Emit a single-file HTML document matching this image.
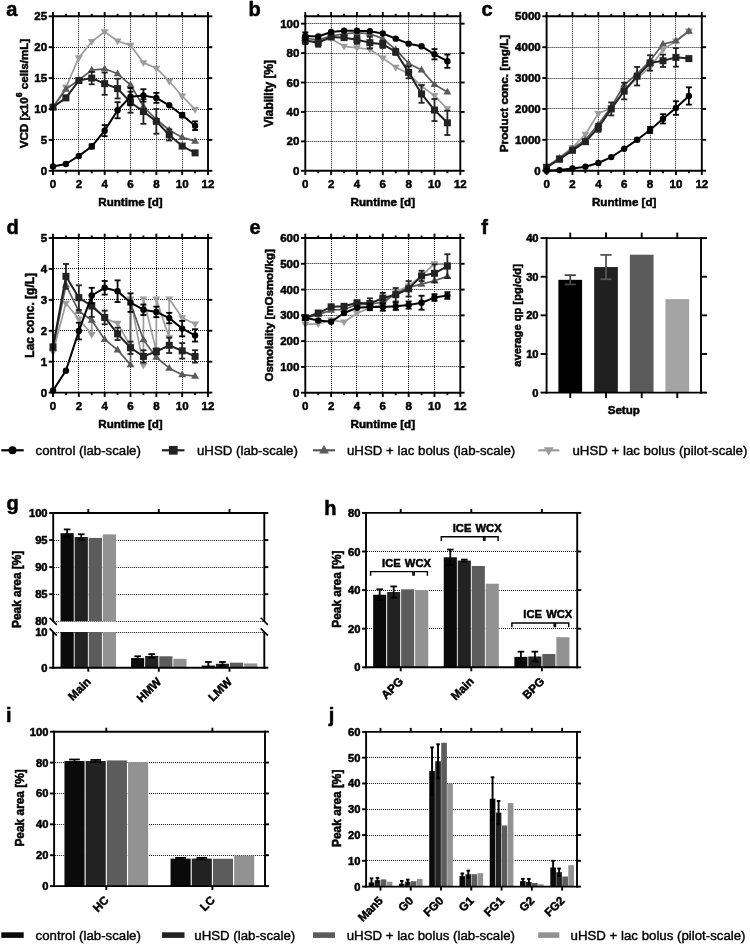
<!DOCTYPE html>
<html><head><meta charset="utf-8"><style>
html,body{margin:0;padding:0;background:#fff;}
svg{display:block;will-change:transform;}
text{font-family:"Liberation Sans", sans-serif;}
text[font-weight="bold"]{stroke:#000;stroke-width:0.5px;paint-order:stroke;}
text[font-weight="normal"]{stroke:#000;stroke-width:0.4px;paint-order:stroke;}
</style></head><body>
<svg width="750" height="944" viewBox="0 0 750 944" font-family='"Liberation Sans", sans-serif'>
<rect width="750" height="944" fill="#fff"/>
<line x1="78.5" y1="17.3" x2="78.5" y2="169.8" stroke="#111" stroke-width="1.0" stroke-dasharray="1 1"/>
<line x1="104.5" y1="17.3" x2="104.5" y2="169.8" stroke="#111" stroke-width="1.0" stroke-dasharray="1 1"/>
<line x1="130.5" y1="17.3" x2="130.5" y2="169.8" stroke="#111" stroke-width="1.0" stroke-dasharray="1 1"/>
<line x1="156.5" y1="17.3" x2="156.5" y2="169.8" stroke="#111" stroke-width="1.0" stroke-dasharray="1 1"/>
<line x1="182.5" y1="17.3" x2="182.5" y2="169.8" stroke="#111" stroke-width="1.0" stroke-dasharray="1 1"/>
<line x1="54" y1="139.5" x2="207" y2="139.5" stroke="#111" stroke-width="1.0" stroke-dasharray="1 1"/>
<line x1="54" y1="109.5" x2="207" y2="109.5" stroke="#111" stroke-width="1.0" stroke-dasharray="1 1"/>
<line x1="54" y1="78.5" x2="207" y2="78.5" stroke="#111" stroke-width="1.0" stroke-dasharray="1 1"/>
<line x1="54" y1="47.5" x2="207" y2="47.5" stroke="#111" stroke-width="1.0" stroke-dasharray="1 1"/>
<path d="M53 107.15 L65.92 87.37 L78.83 57.71 L91.75 41.64 L104.67 31.75 L117.58 41.02 L130.5 45.35 L143.42 62.65 L156.33 68.21 L169.25 81.19 L182.17 96.02 L195.08 109.62" fill="none" stroke="#9c9c9c" stroke-width="1.7" stroke-linejoin="round"/>
<path d="M53 111.35 L56.99 104.63 L49.01 104.63Z" fill="#9c9c9c"/>
<path d="M65.92 91.57 L69.91 84.85 L61.93 84.85Z" fill="#9c9c9c"/>
<path d="M78.83 61.91 L82.82 55.19 L74.84 55.19Z" fill="#9c9c9c"/>
<path d="M91.75 45.84 L95.74 39.12 L87.76 39.12Z" fill="#9c9c9c"/>
<path d="M104.67 35.95 L108.66 29.23 L100.68 29.23Z" fill="#9c9c9c"/>
<path d="M117.58 45.22 L121.57 38.5 L113.59 38.5Z" fill="#9c9c9c"/>
<path d="M130.5 49.55 L134.49 42.83 L126.51 42.83Z" fill="#9c9c9c"/>
<path d="M143.42 66.85 L147.41 60.13 L139.43 60.13Z" fill="#9c9c9c"/>
<path d="M156.33 72.41 L160.32 65.69 L152.34 65.69Z" fill="#9c9c9c"/>
<path d="M169.25 85.39 L173.24 78.67 L165.26 78.67Z" fill="#9c9c9c"/>
<path d="M182.17 100.22 L186.16 93.5 L178.18 93.5Z" fill="#9c9c9c"/>
<path d="M195.08 113.82 L199.07 107.1 L191.09 107.1Z" fill="#9c9c9c"/>
<path d="M53 107.15 L65.92 89.22 L78.83 79.95 L91.75 70.07 L104.67 68.83 L117.58 73.77 L130.5 84.9 L143.42 106.53 L156.33 119.51 L169.25 130.01 L182.17 137.43 L195.08 141.14" fill="none" stroke="#5a5a5a" stroke-width="1.7" stroke-linejoin="round"/>
<path d="M53 102.95 L56.99 109.67 L49.01 109.67Z" fill="#5a5a5a"/>
<path d="M65.92 85.02 L69.91 91.74 L61.93 91.74Z" fill="#5a5a5a"/>
<path d="M78.83 75.75 L82.82 82.47 L74.84 82.47Z" fill="#5a5a5a"/>
<path d="M91.75 65.87 L95.74 72.59 L87.76 72.59Z" fill="#5a5a5a"/>
<path d="M104.67 64.63 L108.66 71.35 L100.68 71.35Z" fill="#5a5a5a"/>
<path d="M117.58 69.57 L121.57 76.29 L113.59 76.29Z" fill="#5a5a5a"/>
<path d="M130.5 80.7 L134.49 87.42 L126.51 87.42Z" fill="#5a5a5a"/>
<path d="M143.42 102.33 L147.41 109.05 L139.43 109.05Z" fill="#5a5a5a"/>
<path d="M156.33 115.31 L160.32 122.03 L152.34 122.03Z" fill="#5a5a5a"/>
<path d="M169.25 125.81 L173.24 132.53 L165.26 132.53Z" fill="#5a5a5a"/>
<path d="M182.17 133.23 L186.16 139.95 L178.18 139.95Z" fill="#5a5a5a"/>
<path d="M195.08 136.94 L199.07 143.66 L191.09 143.66Z" fill="#5a5a5a"/>
<path d="M53 107.15 L65.92 97.88 L78.83 80.57 L91.75 78.1 L104.67 83.66 L117.58 88.61 L130.5 102.2 L143.42 111.47 L156.33 121.36 L169.25 134.96 L182.17 146.08 L195.08 152.88" fill="none" stroke="#222222" stroke-width="2.0" stroke-linejoin="round"/>
<line x1="65.92" y1="96.02" x2="65.92" y2="99.73" stroke="#222222" stroke-width="1.8"/>
<line x1="62.92" y1="96.02" x2="68.92" y2="96.02" stroke="#222222" stroke-width="1.8"/>
<line x1="62.92" y1="99.73" x2="68.92" y2="99.73" stroke="#222222" stroke-width="1.8"/>
<line x1="91.75" y1="71.92" x2="91.75" y2="84.28" stroke="#222222" stroke-width="1.8"/>
<line x1="88.75" y1="71.92" x2="94.75" y2="71.92" stroke="#222222" stroke-width="1.8"/>
<line x1="88.75" y1="84.28" x2="94.75" y2="84.28" stroke="#222222" stroke-width="1.8"/>
<line x1="104.67" y1="72.54" x2="104.67" y2="94.79" stroke="#222222" stroke-width="1.8"/>
<line x1="101.67" y1="72.54" x2="107.67" y2="72.54" stroke="#222222" stroke-width="1.8"/>
<line x1="101.67" y1="94.79" x2="107.67" y2="94.79" stroke="#222222" stroke-width="1.8"/>
<line x1="117.58" y1="78.72" x2="117.58" y2="98.49" stroke="#222222" stroke-width="1.8"/>
<line x1="114.58" y1="78.72" x2="120.58" y2="78.72" stroke="#222222" stroke-width="1.8"/>
<line x1="114.58" y1="98.49" x2="120.58" y2="98.49" stroke="#222222" stroke-width="1.8"/>
<line x1="130.5" y1="91.7" x2="130.5" y2="112.71" stroke="#222222" stroke-width="1.8"/>
<line x1="127.5" y1="91.7" x2="133.5" y2="91.7" stroke="#222222" stroke-width="1.8"/>
<line x1="127.5" y1="112.71" x2="133.5" y2="112.71" stroke="#222222" stroke-width="1.8"/>
<line x1="143.42" y1="99.11" x2="143.42" y2="123.83" stroke="#222222" stroke-width="1.8"/>
<line x1="140.42" y1="99.11" x2="146.42" y2="99.11" stroke="#222222" stroke-width="1.8"/>
<line x1="140.42" y1="123.83" x2="146.42" y2="123.83" stroke="#222222" stroke-width="1.8"/>
<line x1="156.33" y1="109" x2="156.33" y2="133.72" stroke="#222222" stroke-width="1.8"/>
<line x1="153.33" y1="109" x2="159.33" y2="109" stroke="#222222" stroke-width="1.8"/>
<line x1="153.33" y1="133.72" x2="159.33" y2="133.72" stroke="#222222" stroke-width="1.8"/>
<line x1="169.25" y1="129.39" x2="169.25" y2="140.52" stroke="#222222" stroke-width="1.8"/>
<line x1="166.25" y1="129.39" x2="172.25" y2="129.39" stroke="#222222" stroke-width="1.8"/>
<line x1="166.25" y1="140.52" x2="172.25" y2="140.52" stroke="#222222" stroke-width="1.8"/>
<rect x="49.5" y="103.65" width="7" height="7" fill="#222222"/>
<rect x="62.42" y="94.38" width="7" height="7" fill="#222222"/>
<rect x="75.33" y="77.07" width="7" height="7" fill="#222222"/>
<rect x="88.25" y="74.6" width="7" height="7" fill="#222222"/>
<rect x="101.17" y="80.16" width="7" height="7" fill="#222222"/>
<rect x="114.08" y="85.11" width="7" height="7" fill="#222222"/>
<rect x="127" y="98.7" width="7" height="7" fill="#222222"/>
<rect x="139.92" y="107.97" width="7" height="7" fill="#222222"/>
<rect x="152.83" y="117.86" width="7" height="7" fill="#222222"/>
<rect x="165.75" y="131.46" width="7" height="7" fill="#222222"/>
<rect x="178.67" y="142.58" width="7" height="7" fill="#222222"/>
<rect x="191.58" y="149.38" width="7" height="7" fill="#222222"/>
<path d="M53 166.47 L65.92 164 L78.83 155.97 L91.75 146.39 L104.67 130.63 L117.58 110.24 L130.5 96.64 L143.42 95.4 L156.33 97.88 L169.25 105.29 L182.17 115.18 L195.08 125.69" fill="none" stroke="#000000" stroke-width="2.0" stroke-linejoin="round"/>
<line x1="91.75" y1="144.23" x2="91.75" y2="148.55" stroke="#000000" stroke-width="1.8"/>
<line x1="88.75" y1="144.23" x2="94.75" y2="144.23" stroke="#000000" stroke-width="1.8"/>
<line x1="88.75" y1="148.55" x2="94.75" y2="148.55" stroke="#000000" stroke-width="1.8"/>
<line x1="104.67" y1="125.07" x2="104.67" y2="136.19" stroke="#000000" stroke-width="1.8"/>
<line x1="101.67" y1="125.07" x2="107.67" y2="125.07" stroke="#000000" stroke-width="1.8"/>
<line x1="101.67" y1="136.19" x2="107.67" y2="136.19" stroke="#000000" stroke-width="1.8"/>
<line x1="117.58" y1="102.2" x2="117.58" y2="118.27" stroke="#000000" stroke-width="1.8"/>
<line x1="114.58" y1="102.2" x2="120.58" y2="102.2" stroke="#000000" stroke-width="1.8"/>
<line x1="114.58" y1="118.27" x2="120.58" y2="118.27" stroke="#000000" stroke-width="1.8"/>
<line x1="130.5" y1="87.99" x2="130.5" y2="105.29" stroke="#000000" stroke-width="1.8"/>
<line x1="127.5" y1="87.99" x2="133.5" y2="87.99" stroke="#000000" stroke-width="1.8"/>
<line x1="127.5" y1="105.29" x2="133.5" y2="105.29" stroke="#000000" stroke-width="1.8"/>
<line x1="143.42" y1="89.22" x2="143.42" y2="101.58" stroke="#000000" stroke-width="1.8"/>
<line x1="140.42" y1="89.22" x2="146.42" y2="89.22" stroke="#000000" stroke-width="1.8"/>
<line x1="140.42" y1="101.58" x2="146.42" y2="101.58" stroke="#000000" stroke-width="1.8"/>
<line x1="156.33" y1="92.93" x2="156.33" y2="102.82" stroke="#000000" stroke-width="1.8"/>
<line x1="153.33" y1="92.93" x2="159.33" y2="92.93" stroke="#000000" stroke-width="1.8"/>
<line x1="153.33" y1="102.82" x2="159.33" y2="102.82" stroke="#000000" stroke-width="1.8"/>
<line x1="182.17" y1="113.02" x2="182.17" y2="117.34" stroke="#000000" stroke-width="1.8"/>
<line x1="179.17" y1="113.02" x2="185.17" y2="113.02" stroke="#000000" stroke-width="1.8"/>
<line x1="179.17" y1="117.34" x2="185.17" y2="117.34" stroke="#000000" stroke-width="1.8"/>
<line x1="195.08" y1="121.36" x2="195.08" y2="130.01" stroke="#000000" stroke-width="1.8"/>
<line x1="192.08" y1="121.36" x2="198.08" y2="121.36" stroke="#000000" stroke-width="1.8"/>
<line x1="192.08" y1="130.01" x2="198.08" y2="130.01" stroke="#000000" stroke-width="1.8"/>
<circle cx="53" cy="166.47" r="3.2" fill="#000000"/>
<circle cx="65.92" cy="164" r="3.2" fill="#000000"/>
<circle cx="78.83" cy="155.97" r="3.2" fill="#000000"/>
<circle cx="91.75" cy="146.39" r="3.2" fill="#000000"/>
<circle cx="104.67" cy="130.63" r="3.2" fill="#000000"/>
<circle cx="117.58" cy="110.24" r="3.2" fill="#000000"/>
<circle cx="130.5" cy="96.64" r="3.2" fill="#000000"/>
<circle cx="143.42" cy="95.4" r="3.2" fill="#000000"/>
<circle cx="156.33" cy="97.88" r="3.2" fill="#000000"/>
<circle cx="169.25" cy="105.29" r="3.2" fill="#000000"/>
<circle cx="182.17" cy="115.18" r="3.2" fill="#000000"/>
<circle cx="195.08" cy="125.69" r="3.2" fill="#000000"/>
<line x1="53" y1="15.35" x2="53" y2="171.75" stroke="#000" stroke-width="1.9"/>
<line x1="208" y1="15.35" x2="208" y2="171.75" stroke="#000" stroke-width="1.9"/>
<line x1="52.05" y1="170.8" x2="208.95" y2="170.8" stroke="#000" stroke-width="1.9"/>
<line x1="52.05" y1="16.3" x2="208.95" y2="16.3" stroke="#000" stroke-width="1.9"/>
<line x1="53" y1="170.8" x2="53" y2="175.1" stroke="#000" stroke-width="1.9"/>
<line x1="53" y1="16.3" x2="53" y2="12" stroke="#000" stroke-width="1.9"/>
<line x1="78.83" y1="170.8" x2="78.83" y2="175.1" stroke="#000" stroke-width="1.9"/>
<line x1="78.83" y1="16.3" x2="78.83" y2="12" stroke="#000" stroke-width="1.9"/>
<line x1="104.67" y1="170.8" x2="104.67" y2="175.1" stroke="#000" stroke-width="1.9"/>
<line x1="104.67" y1="16.3" x2="104.67" y2="12" stroke="#000" stroke-width="1.9"/>
<line x1="130.5" y1="170.8" x2="130.5" y2="175.1" stroke="#000" stroke-width="1.9"/>
<line x1="130.5" y1="16.3" x2="130.5" y2="12" stroke="#000" stroke-width="1.9"/>
<line x1="156.33" y1="170.8" x2="156.33" y2="175.1" stroke="#000" stroke-width="1.9"/>
<line x1="156.33" y1="16.3" x2="156.33" y2="12" stroke="#000" stroke-width="1.9"/>
<line x1="182.17" y1="170.8" x2="182.17" y2="175.1" stroke="#000" stroke-width="1.9"/>
<line x1="182.17" y1="16.3" x2="182.17" y2="12" stroke="#000" stroke-width="1.9"/>
<line x1="208" y1="170.8" x2="208" y2="175.1" stroke="#000" stroke-width="1.9"/>
<line x1="208" y1="16.3" x2="208" y2="12" stroke="#000" stroke-width="1.9"/>
<line x1="65.92" y1="170.8" x2="65.92" y2="173.3" stroke="#000" stroke-width="1.9"/>
<line x1="65.92" y1="16.3" x2="65.92" y2="13.8" stroke="#000" stroke-width="1.9"/>
<line x1="91.75" y1="170.8" x2="91.75" y2="173.3" stroke="#000" stroke-width="1.9"/>
<line x1="91.75" y1="16.3" x2="91.75" y2="13.8" stroke="#000" stroke-width="1.9"/>
<line x1="117.58" y1="170.8" x2="117.58" y2="173.3" stroke="#000" stroke-width="1.9"/>
<line x1="117.58" y1="16.3" x2="117.58" y2="13.8" stroke="#000" stroke-width="1.9"/>
<line x1="143.42" y1="170.8" x2="143.42" y2="173.3" stroke="#000" stroke-width="1.9"/>
<line x1="143.42" y1="16.3" x2="143.42" y2="13.8" stroke="#000" stroke-width="1.9"/>
<line x1="169.25" y1="170.8" x2="169.25" y2="173.3" stroke="#000" stroke-width="1.9"/>
<line x1="169.25" y1="16.3" x2="169.25" y2="13.8" stroke="#000" stroke-width="1.9"/>
<line x1="195.08" y1="170.8" x2="195.08" y2="173.3" stroke="#000" stroke-width="1.9"/>
<line x1="195.08" y1="16.3" x2="195.08" y2="13.8" stroke="#000" stroke-width="1.9"/>
<line x1="53" y1="170.8" x2="48.7" y2="170.8" stroke="#000" stroke-width="1.9"/>
<line x1="208" y1="170.8" x2="212.3" y2="170.8" stroke="#000" stroke-width="1.9"/>
<line x1="53" y1="139.9" x2="48.7" y2="139.9" stroke="#000" stroke-width="1.9"/>
<line x1="208" y1="139.9" x2="212.3" y2="139.9" stroke="#000" stroke-width="1.9"/>
<line x1="53" y1="109" x2="48.7" y2="109" stroke="#000" stroke-width="1.9"/>
<line x1="208" y1="109" x2="212.3" y2="109" stroke="#000" stroke-width="1.9"/>
<line x1="53" y1="78.1" x2="48.7" y2="78.1" stroke="#000" stroke-width="1.9"/>
<line x1="208" y1="78.1" x2="212.3" y2="78.1" stroke="#000" stroke-width="1.9"/>
<line x1="53" y1="47.2" x2="48.7" y2="47.2" stroke="#000" stroke-width="1.9"/>
<line x1="208" y1="47.2" x2="212.3" y2="47.2" stroke="#000" stroke-width="1.9"/>
<line x1="53" y1="16.3" x2="48.7" y2="16.3" stroke="#000" stroke-width="1.9"/>
<line x1="208" y1="16.3" x2="212.3" y2="16.3" stroke="#000" stroke-width="1.9"/>
<text x="53" y="187.8" font-size="11.5" font-weight="bold" text-anchor="middle" fill="#000">0</text>
<text x="78.83" y="187.8" font-size="11.5" font-weight="bold" text-anchor="middle" fill="#000">2</text>
<text x="104.67" y="187.8" font-size="11.5" font-weight="bold" text-anchor="middle" fill="#000">4</text>
<text x="130.5" y="187.8" font-size="11.5" font-weight="bold" text-anchor="middle" fill="#000">6</text>
<text x="156.33" y="187.8" font-size="11.5" font-weight="bold" text-anchor="middle" fill="#000">8</text>
<text x="182.17" y="187.8" font-size="11.5" font-weight="bold" text-anchor="middle" fill="#000">10</text>
<text x="208" y="187.8" font-size="11.5" font-weight="bold" text-anchor="middle" fill="#000">12</text>
<text x="47.1" y="174.9" font-size="11.5" font-weight="bold" text-anchor="end" fill="#000">0</text>
<text x="47.1" y="144" font-size="11.5" font-weight="bold" text-anchor="end" fill="#000">5</text>
<text x="47.1" y="113.1" font-size="11.5" font-weight="bold" text-anchor="end" fill="#000">10</text>
<text x="47.1" y="82.2" font-size="11.5" font-weight="bold" text-anchor="end" fill="#000">15</text>
<text x="47.1" y="51.3" font-size="11.5" font-weight="bold" text-anchor="end" fill="#000">20</text>
<text x="47.1" y="20.4" font-size="11.5" font-weight="bold" text-anchor="end" fill="#000">25</text>
<text x="130.5" y="205.9" font-size="11.6" font-weight="bold" text-anchor="middle" fill="#000">Runtime [d]</text>
<text x="27.7" y="93.55" font-size="11.65" font-weight="bold" text-anchor="middle" transform="rotate(-90 27.7 93.55)">VCD [x10<tspan font-size="8.6" dy="-5.6">6</tspan><tspan dy="5.6"> cells/mL]</tspan></text>
<text x="6.2" y="15.7" font-size="20" font-weight="bold" text-anchor="start" fill="#000">a</text>
<line x1="331.5" y1="17.3" x2="331.5" y2="169.8" stroke="#111" stroke-width="1.0" stroke-dasharray="1 1"/>
<line x1="356.5" y1="17.3" x2="356.5" y2="169.8" stroke="#111" stroke-width="1.0" stroke-dasharray="1 1"/>
<line x1="382.5" y1="17.3" x2="382.5" y2="169.8" stroke="#111" stroke-width="1.0" stroke-dasharray="1 1"/>
<line x1="408.5" y1="17.3" x2="408.5" y2="169.8" stroke="#111" stroke-width="1.0" stroke-dasharray="1 1"/>
<line x1="434.5" y1="17.3" x2="434.5" y2="169.8" stroke="#111" stroke-width="1.0" stroke-dasharray="1 1"/>
<line x1="306.3" y1="141.5" x2="459.3" y2="141.5" stroke="#111" stroke-width="1.0" stroke-dasharray="1 1"/>
<line x1="306.3" y1="111.5" x2="459.3" y2="111.5" stroke="#111" stroke-width="1.0" stroke-dasharray="1 1"/>
<line x1="306.3" y1="82.5" x2="459.3" y2="82.5" stroke="#111" stroke-width="1.0" stroke-dasharray="1 1"/>
<line x1="306.3" y1="53.5" x2="459.3" y2="53.5" stroke="#111" stroke-width="1.0" stroke-dasharray="1 1"/>
<line x1="306.3" y1="23.5" x2="459.3" y2="23.5" stroke="#111" stroke-width="1.0" stroke-dasharray="1 1"/>
<path d="M305.3 40.87 L318.22 41.31 L331.13 38.67 L344.05 46.32 L356.97 47.79 L369.88 49.26 L382.8 58.09 L395.72 67.21 L408.63 73.83 L421.55 86.19 L434.47 95.61 L447.38 108.85" fill="none" stroke="#9c9c9c" stroke-width="1.7" stroke-linejoin="round"/>
<path d="M305.3 45.07 L309.29 38.35 L301.31 38.35Z" fill="#9c9c9c"/>
<path d="M318.22 45.51 L322.21 38.79 L314.23 38.79Z" fill="#9c9c9c"/>
<path d="M331.13 42.87 L335.12 36.15 L327.14 36.15Z" fill="#9c9c9c"/>
<path d="M344.05 50.52 L348.04 43.8 L340.06 43.8Z" fill="#9c9c9c"/>
<path d="M356.97 51.99 L360.96 45.27 L352.98 45.27Z" fill="#9c9c9c"/>
<path d="M369.88 53.46 L373.87 46.74 L365.89 46.74Z" fill="#9c9c9c"/>
<path d="M382.8 62.29 L386.79 55.57 L378.81 55.57Z" fill="#9c9c9c"/>
<path d="M395.72 71.41 L399.71 64.69 L391.73 64.69Z" fill="#9c9c9c"/>
<path d="M408.63 78.03 L412.62 71.31 L404.64 71.31Z" fill="#9c9c9c"/>
<path d="M421.55 90.39 L425.54 83.67 L417.56 83.67Z" fill="#9c9c9c"/>
<path d="M434.47 99.81 L438.46 93.09 L430.48 93.09Z" fill="#9c9c9c"/>
<path d="M447.38 113.05 L451.37 106.33 L443.39 106.33Z" fill="#9c9c9c"/>
<path d="M305.3 38.22 L318.22 39.84 L331.13 36.02 L344.05 33.81 L356.97 32.63 L369.88 33.81 L382.8 38.67 L395.72 49.7 L408.63 63.39 L421.55 70.01 L434.47 84.57 L447.38 91.93" fill="none" stroke="#5a5a5a" stroke-width="1.7" stroke-linejoin="round"/>
<path d="M305.3 34.02 L309.29 40.74 L301.31 40.74Z" fill="#5a5a5a"/>
<path d="M318.22 35.64 L322.21 42.36 L314.23 42.36Z" fill="#5a5a5a"/>
<path d="M331.13 31.82 L335.12 38.54 L327.14 38.54Z" fill="#5a5a5a"/>
<path d="M344.05 29.61 L348.04 36.33 L340.06 36.33Z" fill="#5a5a5a"/>
<path d="M356.97 28.43 L360.96 35.15 L352.98 35.15Z" fill="#5a5a5a"/>
<path d="M369.88 29.61 L373.87 36.33 L365.89 36.33Z" fill="#5a5a5a"/>
<path d="M382.8 34.47 L386.79 41.19 L378.81 41.19Z" fill="#5a5a5a"/>
<path d="M395.72 45.5 L399.71 52.22 L391.73 52.22Z" fill="#5a5a5a"/>
<path d="M408.63 59.19 L412.62 65.91 L404.64 65.91Z" fill="#5a5a5a"/>
<path d="M421.55 65.81 L425.54 72.53 L417.56 72.53Z" fill="#5a5a5a"/>
<path d="M434.47 80.37 L438.46 87.09 L430.48 87.09Z" fill="#5a5a5a"/>
<path d="M447.38 87.73 L451.37 94.45 L443.39 94.45Z" fill="#5a5a5a"/>
<path d="M305.3 40.43 L318.22 42.64 L331.13 36.9 L344.05 37.64 L356.97 39.84 L369.88 42.64 L382.8 44.26 L395.72 51.91 L408.63 72.36 L421.55 93.99 L434.47 110.03 L447.38 122.83" fill="none" stroke="#222222" stroke-width="2.0" stroke-linejoin="round"/>
<line x1="305.3" y1="36.75" x2="305.3" y2="44.11" stroke="#222222" stroke-width="1.8"/>
<line x1="302.3" y1="36.75" x2="308.3" y2="36.75" stroke="#222222" stroke-width="1.8"/>
<line x1="302.3" y1="44.11" x2="308.3" y2="44.11" stroke="#222222" stroke-width="1.8"/>
<line x1="318.22" y1="38.52" x2="318.22" y2="46.76" stroke="#222222" stroke-width="1.8"/>
<line x1="315.22" y1="38.52" x2="321.22" y2="38.52" stroke="#222222" stroke-width="1.8"/>
<line x1="315.22" y1="46.76" x2="321.22" y2="46.76" stroke="#222222" stroke-width="1.8"/>
<line x1="356.97" y1="35.87" x2="356.97" y2="43.82" stroke="#222222" stroke-width="1.8"/>
<line x1="353.97" y1="35.87" x2="359.97" y2="35.87" stroke="#222222" stroke-width="1.8"/>
<line x1="353.97" y1="43.82" x2="359.97" y2="43.82" stroke="#222222" stroke-width="1.8"/>
<line x1="369.88" y1="36.75" x2="369.88" y2="48.52" stroke="#222222" stroke-width="1.8"/>
<line x1="366.88" y1="36.75" x2="372.88" y2="36.75" stroke="#222222" stroke-width="1.8"/>
<line x1="366.88" y1="48.52" x2="372.88" y2="48.52" stroke="#222222" stroke-width="1.8"/>
<line x1="382.8" y1="40.58" x2="382.8" y2="47.94" stroke="#222222" stroke-width="1.8"/>
<line x1="379.8" y1="40.58" x2="385.8" y2="40.58" stroke="#222222" stroke-width="1.8"/>
<line x1="379.8" y1="47.94" x2="385.8" y2="47.94" stroke="#222222" stroke-width="1.8"/>
<line x1="395.72" y1="48.97" x2="395.72" y2="54.85" stroke="#222222" stroke-width="1.8"/>
<line x1="392.72" y1="48.97" x2="398.72" y2="48.97" stroke="#222222" stroke-width="1.8"/>
<line x1="392.72" y1="54.85" x2="398.72" y2="54.85" stroke="#222222" stroke-width="1.8"/>
<line x1="408.63" y1="66.48" x2="408.63" y2="78.25" stroke="#222222" stroke-width="1.8"/>
<line x1="405.63" y1="66.48" x2="411.63" y2="66.48" stroke="#222222" stroke-width="1.8"/>
<line x1="405.63" y1="78.25" x2="411.63" y2="78.25" stroke="#222222" stroke-width="1.8"/>
<line x1="421.55" y1="85.16" x2="421.55" y2="102.82" stroke="#222222" stroke-width="1.8"/>
<line x1="418.55" y1="85.16" x2="424.55" y2="85.16" stroke="#222222" stroke-width="1.8"/>
<line x1="418.55" y1="102.82" x2="424.55" y2="102.82" stroke="#222222" stroke-width="1.8"/>
<line x1="434.47" y1="98.99" x2="434.47" y2="121.07" stroke="#222222" stroke-width="1.8"/>
<line x1="431.47" y1="98.99" x2="437.47" y2="98.99" stroke="#222222" stroke-width="1.8"/>
<line x1="431.47" y1="121.07" x2="437.47" y2="121.07" stroke="#222222" stroke-width="1.8"/>
<line x1="447.38" y1="110.62" x2="447.38" y2="135.04" stroke="#222222" stroke-width="1.8"/>
<line x1="444.38" y1="110.62" x2="450.38" y2="110.62" stroke="#222222" stroke-width="1.8"/>
<line x1="444.38" y1="135.04" x2="450.38" y2="135.04" stroke="#222222" stroke-width="1.8"/>
<rect x="301.8" y="36.93" width="7" height="7" fill="#222222"/>
<rect x="314.72" y="39.14" width="7" height="7" fill="#222222"/>
<rect x="327.63" y="33.4" width="7" height="7" fill="#222222"/>
<rect x="340.55" y="34.14" width="7" height="7" fill="#222222"/>
<rect x="353.47" y="36.34" width="7" height="7" fill="#222222"/>
<rect x="366.38" y="39.14" width="7" height="7" fill="#222222"/>
<rect x="379.3" y="40.76" width="7" height="7" fill="#222222"/>
<rect x="392.22" y="48.41" width="7" height="7" fill="#222222"/>
<rect x="405.13" y="68.86" width="7" height="7" fill="#222222"/>
<rect x="418.05" y="90.49" width="7" height="7" fill="#222222"/>
<rect x="430.97" y="106.53" width="7" height="7" fill="#222222"/>
<rect x="443.88" y="119.33" width="7" height="7" fill="#222222"/>
<path d="M305.3 36.02 L318.22 36.46 L331.13 32.04 L344.05 30.72 L356.97 30.72 L369.88 31.31 L382.8 33.52 L395.72 38.67 L408.63 43.67 L421.55 46.32 L434.47 54.26 L447.38 61.18" fill="none" stroke="#000000" stroke-width="2.0" stroke-linejoin="round"/>
<line x1="305.3" y1="32.34" x2="305.3" y2="39.7" stroke="#000000" stroke-width="1.8"/>
<line x1="302.3" y1="32.34" x2="308.3" y2="32.34" stroke="#000000" stroke-width="1.8"/>
<line x1="302.3" y1="39.7" x2="308.3" y2="39.7" stroke="#000000" stroke-width="1.8"/>
<line x1="434.47" y1="49.11" x2="434.47" y2="59.41" stroke="#000000" stroke-width="1.8"/>
<line x1="431.47" y1="49.11" x2="437.47" y2="49.11" stroke="#000000" stroke-width="1.8"/>
<line x1="431.47" y1="59.41" x2="437.47" y2="59.41" stroke="#000000" stroke-width="1.8"/>
<line x1="447.38" y1="54.56" x2="447.38" y2="67.8" stroke="#000000" stroke-width="1.8"/>
<line x1="444.38" y1="54.56" x2="450.38" y2="54.56" stroke="#000000" stroke-width="1.8"/>
<line x1="444.38" y1="67.8" x2="450.38" y2="67.8" stroke="#000000" stroke-width="1.8"/>
<circle cx="305.3" cy="36.02" r="3.2" fill="#000000"/>
<circle cx="318.22" cy="36.46" r="3.2" fill="#000000"/>
<circle cx="331.13" cy="32.04" r="3.2" fill="#000000"/>
<circle cx="344.05" cy="30.72" r="3.2" fill="#000000"/>
<circle cx="356.97" cy="30.72" r="3.2" fill="#000000"/>
<circle cx="369.88" cy="31.31" r="3.2" fill="#000000"/>
<circle cx="382.8" cy="33.52" r="3.2" fill="#000000"/>
<circle cx="395.72" cy="38.67" r="3.2" fill="#000000"/>
<circle cx="408.63" cy="43.67" r="3.2" fill="#000000"/>
<circle cx="421.55" cy="46.32" r="3.2" fill="#000000"/>
<circle cx="434.47" cy="54.26" r="3.2" fill="#000000"/>
<circle cx="447.38" cy="61.18" r="3.2" fill="#000000"/>
<line x1="305.3" y1="15.35" x2="305.3" y2="171.75" stroke="#000" stroke-width="1.9"/>
<line x1="460.3" y1="15.35" x2="460.3" y2="171.75" stroke="#000" stroke-width="1.9"/>
<line x1="304.35" y1="170.8" x2="461.25" y2="170.8" stroke="#000" stroke-width="1.9"/>
<line x1="304.35" y1="16.3" x2="461.25" y2="16.3" stroke="#000" stroke-width="1.9"/>
<line x1="305.3" y1="170.8" x2="305.3" y2="175.1" stroke="#000" stroke-width="1.9"/>
<line x1="305.3" y1="16.3" x2="305.3" y2="12" stroke="#000" stroke-width="1.9"/>
<line x1="331.13" y1="170.8" x2="331.13" y2="175.1" stroke="#000" stroke-width="1.9"/>
<line x1="331.13" y1="16.3" x2="331.13" y2="12" stroke="#000" stroke-width="1.9"/>
<line x1="356.97" y1="170.8" x2="356.97" y2="175.1" stroke="#000" stroke-width="1.9"/>
<line x1="356.97" y1="16.3" x2="356.97" y2="12" stroke="#000" stroke-width="1.9"/>
<line x1="382.8" y1="170.8" x2="382.8" y2="175.1" stroke="#000" stroke-width="1.9"/>
<line x1="382.8" y1="16.3" x2="382.8" y2="12" stroke="#000" stroke-width="1.9"/>
<line x1="408.63" y1="170.8" x2="408.63" y2="175.1" stroke="#000" stroke-width="1.9"/>
<line x1="408.63" y1="16.3" x2="408.63" y2="12" stroke="#000" stroke-width="1.9"/>
<line x1="434.47" y1="170.8" x2="434.47" y2="175.1" stroke="#000" stroke-width="1.9"/>
<line x1="434.47" y1="16.3" x2="434.47" y2="12" stroke="#000" stroke-width="1.9"/>
<line x1="460.3" y1="170.8" x2="460.3" y2="175.1" stroke="#000" stroke-width="1.9"/>
<line x1="460.3" y1="16.3" x2="460.3" y2="12" stroke="#000" stroke-width="1.9"/>
<line x1="318.22" y1="170.8" x2="318.22" y2="173.3" stroke="#000" stroke-width="1.9"/>
<line x1="318.22" y1="16.3" x2="318.22" y2="13.8" stroke="#000" stroke-width="1.9"/>
<line x1="344.05" y1="170.8" x2="344.05" y2="173.3" stroke="#000" stroke-width="1.9"/>
<line x1="344.05" y1="16.3" x2="344.05" y2="13.8" stroke="#000" stroke-width="1.9"/>
<line x1="369.88" y1="170.8" x2="369.88" y2="173.3" stroke="#000" stroke-width="1.9"/>
<line x1="369.88" y1="16.3" x2="369.88" y2="13.8" stroke="#000" stroke-width="1.9"/>
<line x1="395.72" y1="170.8" x2="395.72" y2="173.3" stroke="#000" stroke-width="1.9"/>
<line x1="395.72" y1="16.3" x2="395.72" y2="13.8" stroke="#000" stroke-width="1.9"/>
<line x1="421.55" y1="170.8" x2="421.55" y2="173.3" stroke="#000" stroke-width="1.9"/>
<line x1="421.55" y1="16.3" x2="421.55" y2="13.8" stroke="#000" stroke-width="1.9"/>
<line x1="447.38" y1="170.8" x2="447.38" y2="173.3" stroke="#000" stroke-width="1.9"/>
<line x1="447.38" y1="16.3" x2="447.38" y2="13.8" stroke="#000" stroke-width="1.9"/>
<line x1="305.3" y1="170.8" x2="301" y2="170.8" stroke="#000" stroke-width="1.9"/>
<line x1="460.3" y1="170.8" x2="464.6" y2="170.8" stroke="#000" stroke-width="1.9"/>
<line x1="305.3" y1="141.37" x2="301" y2="141.37" stroke="#000" stroke-width="1.9"/>
<line x1="460.3" y1="141.37" x2="464.6" y2="141.37" stroke="#000" stroke-width="1.9"/>
<line x1="305.3" y1="111.94" x2="301" y2="111.94" stroke="#000" stroke-width="1.9"/>
<line x1="460.3" y1="111.94" x2="464.6" y2="111.94" stroke="#000" stroke-width="1.9"/>
<line x1="305.3" y1="82.51" x2="301" y2="82.51" stroke="#000" stroke-width="1.9"/>
<line x1="460.3" y1="82.51" x2="464.6" y2="82.51" stroke="#000" stroke-width="1.9"/>
<line x1="305.3" y1="53.09" x2="301" y2="53.09" stroke="#000" stroke-width="1.9"/>
<line x1="460.3" y1="53.09" x2="464.6" y2="53.09" stroke="#000" stroke-width="1.9"/>
<line x1="305.3" y1="23.66" x2="301" y2="23.66" stroke="#000" stroke-width="1.9"/>
<line x1="460.3" y1="23.66" x2="464.6" y2="23.66" stroke="#000" stroke-width="1.9"/>
<text x="305.3" y="187.8" font-size="11.5" font-weight="bold" text-anchor="middle" fill="#000">0</text>
<text x="331.13" y="187.8" font-size="11.5" font-weight="bold" text-anchor="middle" fill="#000">2</text>
<text x="356.97" y="187.8" font-size="11.5" font-weight="bold" text-anchor="middle" fill="#000">4</text>
<text x="382.8" y="187.8" font-size="11.5" font-weight="bold" text-anchor="middle" fill="#000">6</text>
<text x="408.63" y="187.8" font-size="11.5" font-weight="bold" text-anchor="middle" fill="#000">8</text>
<text x="434.47" y="187.8" font-size="11.5" font-weight="bold" text-anchor="middle" fill="#000">10</text>
<text x="460.3" y="187.8" font-size="11.5" font-weight="bold" text-anchor="middle" fill="#000">12</text>
<text x="299.4" y="174.9" font-size="11.5" font-weight="bold" text-anchor="end" fill="#000">0</text>
<text x="299.4" y="145.47" font-size="11.5" font-weight="bold" text-anchor="end" fill="#000">20</text>
<text x="299.4" y="116.04" font-size="11.5" font-weight="bold" text-anchor="end" fill="#000">40</text>
<text x="299.4" y="86.61" font-size="11.5" font-weight="bold" text-anchor="end" fill="#000">60</text>
<text x="299.4" y="57.19" font-size="11.5" font-weight="bold" text-anchor="end" fill="#000">80</text>
<text x="299.4" y="27.76" font-size="11.5" font-weight="bold" text-anchor="end" fill="#000">100</text>
<text x="382.8" y="205.9" font-size="11.6" font-weight="bold" text-anchor="middle" fill="#000">Runtime [d]</text>
<text x="272.6" y="93.55" font-size="11.9" font-weight="bold" text-anchor="middle" transform="rotate(-90 272.6 93.55)">Viability [%]</text>
<text x="248.6" y="15.5" font-size="20" font-weight="bold" text-anchor="start" fill="#000">b</text>
<line x1="572.5" y1="17.3" x2="572.5" y2="169.7" stroke="#111" stroke-width="1.0" stroke-dasharray="1 1"/>
<line x1="598.5" y1="17.3" x2="598.5" y2="169.7" stroke="#111" stroke-width="1.0" stroke-dasharray="1 1"/>
<line x1="624.5" y1="17.3" x2="624.5" y2="169.7" stroke="#111" stroke-width="1.0" stroke-dasharray="1 1"/>
<line x1="650.5" y1="17.3" x2="650.5" y2="169.7" stroke="#111" stroke-width="1.0" stroke-dasharray="1 1"/>
<line x1="675.5" y1="17.3" x2="675.5" y2="169.7" stroke="#111" stroke-width="1.0" stroke-dasharray="1 1"/>
<line x1="547.6" y1="139.5" x2="700.8" y2="139.5" stroke="#111" stroke-width="1.0" stroke-dasharray="1 1"/>
<line x1="547.6" y1="108.5" x2="700.8" y2="108.5" stroke="#111" stroke-width="1.0" stroke-dasharray="1 1"/>
<line x1="547.6" y1="78.5" x2="700.8" y2="78.5" stroke="#111" stroke-width="1.0" stroke-dasharray="1 1"/>
<line x1="547.6" y1="47.5" x2="700.8" y2="47.5" stroke="#111" stroke-width="1.0" stroke-dasharray="1 1"/>
<path d="M546.6 166.69 L559.53 157.42 L572.47 147.54 L585.4 134.26 L598.33 113.57 L611.27 108.01 L624.2 90.41 L637.13 78.06 L650.07 67.25 L663 49.65 L675.93 41 L688.87 31.12" fill="none" stroke="#9c9c9c" stroke-width="1.7" stroke-linejoin="round"/>
<path d="M546.6 170.89 L550.59 164.17 L542.61 164.17Z" fill="#9c9c9c"/>
<path d="M559.53 161.62 L563.52 154.9 L555.54 154.9Z" fill="#9c9c9c"/>
<path d="M572.47 151.74 L576.46 145.02 L568.48 145.02Z" fill="#9c9c9c"/>
<path d="M585.4 138.46 L589.39 131.74 L581.41 131.74Z" fill="#9c9c9c"/>
<path d="M598.33 117.77 L602.32 111.05 L594.34 111.05Z" fill="#9c9c9c"/>
<path d="M611.27 112.21 L615.26 105.49 L607.28 105.49Z" fill="#9c9c9c"/>
<path d="M624.2 94.61 L628.19 87.89 L620.21 87.89Z" fill="#9c9c9c"/>
<path d="M637.13 82.26 L641.12 75.54 L633.14 75.54Z" fill="#9c9c9c"/>
<path d="M650.07 71.45 L654.06 64.73 L646.08 64.73Z" fill="#9c9c9c"/>
<path d="M663 53.85 L666.99 47.13 L659.01 47.13Z" fill="#9c9c9c"/>
<path d="M675.93 45.2 L679.92 38.48 L671.94 38.48Z" fill="#9c9c9c"/>
<path d="M688.87 35.32 L692.86 28.6 L684.88 28.6Z" fill="#9c9c9c"/>
<path d="M546.6 167.3 L559.53 158.04 L572.47 148.78 L585.4 139.82 L598.33 124.38 L611.27 106.78 L624.2 84.85 L637.13 73.74 L650.07 60.77 L663 44.09 L675.93 41 L688.87 31.12" fill="none" stroke="#5a5a5a" stroke-width="1.7" stroke-linejoin="round"/>
<path d="M546.6 163.1 L550.59 169.82 L542.61 169.82Z" fill="#5a5a5a"/>
<path d="M559.53 153.84 L563.52 160.56 L555.54 160.56Z" fill="#5a5a5a"/>
<path d="M572.47 144.58 L576.46 151.3 L568.48 151.3Z" fill="#5a5a5a"/>
<path d="M585.4 135.62 L589.39 142.34 L581.41 142.34Z" fill="#5a5a5a"/>
<path d="M598.33 120.18 L602.32 126.9 L594.34 126.9Z" fill="#5a5a5a"/>
<path d="M611.27 102.58 L615.26 109.3 L607.28 109.3Z" fill="#5a5a5a"/>
<path d="M624.2 80.65 L628.19 87.37 L620.21 87.37Z" fill="#5a5a5a"/>
<path d="M637.13 69.54 L641.12 76.26 L633.14 76.26Z" fill="#5a5a5a"/>
<path d="M650.07 56.57 L654.06 63.29 L646.08 63.29Z" fill="#5a5a5a"/>
<path d="M663 39.89 L666.99 46.61 L659.01 46.61Z" fill="#5a5a5a"/>
<path d="M675.93 36.8 L679.92 43.52 L671.94 43.52Z" fill="#5a5a5a"/>
<path d="M688.87 26.92 L692.86 33.64 L684.88 33.64Z" fill="#5a5a5a"/>
<path d="M546.6 167.3 L559.53 159.27 L572.47 150.32 L585.4 141.67 L598.33 127.78 L611.27 108.94 L624.2 91.03 L637.13 76.21 L650.07 62.93 L663 60.77 L675.93 57.37 L688.87 58.61" fill="none" stroke="#222222" stroke-width="2.0" stroke-linejoin="round"/>
<line x1="598.33" y1="123.76" x2="598.33" y2="131.79" stroke="#222222" stroke-width="1.8"/>
<line x1="595.33" y1="123.76" x2="601.33" y2="123.76" stroke="#222222" stroke-width="1.8"/>
<line x1="595.33" y1="131.79" x2="601.33" y2="131.79" stroke="#222222" stroke-width="1.8"/>
<line x1="611.27" y1="102.46" x2="611.27" y2="115.42" stroke="#222222" stroke-width="1.8"/>
<line x1="608.27" y1="102.46" x2="614.27" y2="102.46" stroke="#222222" stroke-width="1.8"/>
<line x1="608.27" y1="115.42" x2="614.27" y2="115.42" stroke="#222222" stroke-width="1.8"/>
<line x1="624.2" y1="82.69" x2="624.2" y2="99.37" stroke="#222222" stroke-width="1.8"/>
<line x1="621.2" y1="82.69" x2="627.2" y2="82.69" stroke="#222222" stroke-width="1.8"/>
<line x1="621.2" y1="99.37" x2="627.2" y2="99.37" stroke="#222222" stroke-width="1.8"/>
<line x1="637.13" y1="66.94" x2="637.13" y2="85.47" stroke="#222222" stroke-width="1.8"/>
<line x1="634.13" y1="66.94" x2="640.13" y2="66.94" stroke="#222222" stroke-width="1.8"/>
<line x1="634.13" y1="85.47" x2="640.13" y2="85.47" stroke="#222222" stroke-width="1.8"/>
<line x1="650.07" y1="55.21" x2="650.07" y2="70.65" stroke="#222222" stroke-width="1.8"/>
<line x1="647.07" y1="55.21" x2="653.07" y2="55.21" stroke="#222222" stroke-width="1.8"/>
<line x1="647.07" y1="70.65" x2="653.07" y2="70.65" stroke="#222222" stroke-width="1.8"/>
<line x1="663" y1="54.59" x2="663" y2="66.94" stroke="#222222" stroke-width="1.8"/>
<line x1="660" y1="54.59" x2="666" y2="54.59" stroke="#222222" stroke-width="1.8"/>
<line x1="660" y1="66.94" x2="666" y2="66.94" stroke="#222222" stroke-width="1.8"/>
<line x1="675.93" y1="48.11" x2="675.93" y2="66.63" stroke="#222222" stroke-width="1.8"/>
<line x1="672.93" y1="48.11" x2="678.93" y2="48.11" stroke="#222222" stroke-width="1.8"/>
<line x1="672.93" y1="66.63" x2="678.93" y2="66.63" stroke="#222222" stroke-width="1.8"/>
<rect x="543.1" y="163.8" width="7" height="7" fill="#222222"/>
<rect x="556.03" y="155.77" width="7" height="7" fill="#222222"/>
<rect x="568.97" y="146.82" width="7" height="7" fill="#222222"/>
<rect x="581.9" y="138.17" width="7" height="7" fill="#222222"/>
<rect x="594.83" y="124.28" width="7" height="7" fill="#222222"/>
<rect x="607.77" y="105.44" width="7" height="7" fill="#222222"/>
<rect x="620.7" y="87.53" width="7" height="7" fill="#222222"/>
<rect x="633.63" y="72.71" width="7" height="7" fill="#222222"/>
<rect x="646.57" y="59.43" width="7" height="7" fill="#222222"/>
<rect x="659.5" y="57.27" width="7" height="7" fill="#222222"/>
<rect x="672.43" y="53.87" width="7" height="7" fill="#222222"/>
<rect x="685.37" y="55.11" width="7" height="7" fill="#222222"/>
<path d="M546.6 170.7 L559.53 170.08 L572.47 168.54 L585.4 166.69 L598.33 162.98 L611.27 157.11 L624.2 148.78 L637.13 139.82 L650.07 129.94 L663 118.82 L675.93 108.01 L688.87 95.97" fill="none" stroke="#000000" stroke-width="2.0" stroke-linejoin="round"/>
<line x1="637.13" y1="138.28" x2="637.13" y2="141.36" stroke="#000000" stroke-width="1.8"/>
<line x1="634.13" y1="138.28" x2="640.13" y2="138.28" stroke="#000000" stroke-width="1.8"/>
<line x1="634.13" y1="141.36" x2="640.13" y2="141.36" stroke="#000000" stroke-width="1.8"/>
<line x1="650.07" y1="126.85" x2="650.07" y2="133.03" stroke="#000000" stroke-width="1.8"/>
<line x1="647.07" y1="126.85" x2="653.07" y2="126.85" stroke="#000000" stroke-width="1.8"/>
<line x1="647.07" y1="133.03" x2="653.07" y2="133.03" stroke="#000000" stroke-width="1.8"/>
<line x1="663" y1="114.19" x2="663" y2="123.45" stroke="#000000" stroke-width="1.8"/>
<line x1="660" y1="114.19" x2="666" y2="114.19" stroke="#000000" stroke-width="1.8"/>
<line x1="660" y1="123.45" x2="666" y2="123.45" stroke="#000000" stroke-width="1.8"/>
<line x1="675.93" y1="101.22" x2="675.93" y2="114.81" stroke="#000000" stroke-width="1.8"/>
<line x1="672.93" y1="101.22" x2="678.93" y2="101.22" stroke="#000000" stroke-width="1.8"/>
<line x1="672.93" y1="114.81" x2="678.93" y2="114.81" stroke="#000000" stroke-width="1.8"/>
<line x1="688.87" y1="87.32" x2="688.87" y2="104.62" stroke="#000000" stroke-width="1.8"/>
<line x1="685.87" y1="87.32" x2="691.87" y2="87.32" stroke="#000000" stroke-width="1.8"/>
<line x1="685.87" y1="104.62" x2="691.87" y2="104.62" stroke="#000000" stroke-width="1.8"/>
<circle cx="546.6" cy="170.7" r="3.2" fill="#000000"/>
<circle cx="559.53" cy="170.08" r="3.2" fill="#000000"/>
<circle cx="572.47" cy="168.54" r="3.2" fill="#000000"/>
<circle cx="585.4" cy="166.69" r="3.2" fill="#000000"/>
<circle cx="598.33" cy="162.98" r="3.2" fill="#000000"/>
<circle cx="611.27" cy="157.11" r="3.2" fill="#000000"/>
<circle cx="624.2" cy="148.78" r="3.2" fill="#000000"/>
<circle cx="637.13" cy="139.82" r="3.2" fill="#000000"/>
<circle cx="650.07" cy="129.94" r="3.2" fill="#000000"/>
<circle cx="663" cy="118.82" r="3.2" fill="#000000"/>
<circle cx="675.93" cy="108.01" r="3.2" fill="#000000"/>
<circle cx="688.87" cy="95.97" r="3.2" fill="#000000"/>
<line x1="546.6" y1="15.35" x2="546.6" y2="171.65" stroke="#000" stroke-width="1.9"/>
<line x1="701.8" y1="15.35" x2="701.8" y2="171.65" stroke="#000" stroke-width="1.9"/>
<line x1="545.65" y1="170.7" x2="702.75" y2="170.7" stroke="#000" stroke-width="1.9"/>
<line x1="545.65" y1="16.3" x2="702.75" y2="16.3" stroke="#000" stroke-width="1.9"/>
<line x1="546.6" y1="170.7" x2="546.6" y2="175" stroke="#000" stroke-width="1.9"/>
<line x1="546.6" y1="16.3" x2="546.6" y2="12" stroke="#000" stroke-width="1.9"/>
<line x1="572.47" y1="170.7" x2="572.47" y2="175" stroke="#000" stroke-width="1.9"/>
<line x1="572.47" y1="16.3" x2="572.47" y2="12" stroke="#000" stroke-width="1.9"/>
<line x1="598.33" y1="170.7" x2="598.33" y2="175" stroke="#000" stroke-width="1.9"/>
<line x1="598.33" y1="16.3" x2="598.33" y2="12" stroke="#000" stroke-width="1.9"/>
<line x1="624.2" y1="170.7" x2="624.2" y2="175" stroke="#000" stroke-width="1.9"/>
<line x1="624.2" y1="16.3" x2="624.2" y2="12" stroke="#000" stroke-width="1.9"/>
<line x1="650.07" y1="170.7" x2="650.07" y2="175" stroke="#000" stroke-width="1.9"/>
<line x1="650.07" y1="16.3" x2="650.07" y2="12" stroke="#000" stroke-width="1.9"/>
<line x1="675.93" y1="170.7" x2="675.93" y2="175" stroke="#000" stroke-width="1.9"/>
<line x1="675.93" y1="16.3" x2="675.93" y2="12" stroke="#000" stroke-width="1.9"/>
<line x1="701.8" y1="170.7" x2="701.8" y2="175" stroke="#000" stroke-width="1.9"/>
<line x1="701.8" y1="16.3" x2="701.8" y2="12" stroke="#000" stroke-width="1.9"/>
<line x1="559.53" y1="170.7" x2="559.53" y2="173.2" stroke="#000" stroke-width="1.9"/>
<line x1="559.53" y1="16.3" x2="559.53" y2="13.8" stroke="#000" stroke-width="1.9"/>
<line x1="585.4" y1="170.7" x2="585.4" y2="173.2" stroke="#000" stroke-width="1.9"/>
<line x1="585.4" y1="16.3" x2="585.4" y2="13.8" stroke="#000" stroke-width="1.9"/>
<line x1="611.27" y1="170.7" x2="611.27" y2="173.2" stroke="#000" stroke-width="1.9"/>
<line x1="611.27" y1="16.3" x2="611.27" y2="13.8" stroke="#000" stroke-width="1.9"/>
<line x1="637.13" y1="170.7" x2="637.13" y2="173.2" stroke="#000" stroke-width="1.9"/>
<line x1="637.13" y1="16.3" x2="637.13" y2="13.8" stroke="#000" stroke-width="1.9"/>
<line x1="663" y1="170.7" x2="663" y2="173.2" stroke="#000" stroke-width="1.9"/>
<line x1="663" y1="16.3" x2="663" y2="13.8" stroke="#000" stroke-width="1.9"/>
<line x1="688.87" y1="170.7" x2="688.87" y2="173.2" stroke="#000" stroke-width="1.9"/>
<line x1="688.87" y1="16.3" x2="688.87" y2="13.8" stroke="#000" stroke-width="1.9"/>
<line x1="546.6" y1="170.7" x2="542.3" y2="170.7" stroke="#000" stroke-width="1.9"/>
<line x1="701.8" y1="170.7" x2="706.1" y2="170.7" stroke="#000" stroke-width="1.9"/>
<line x1="546.6" y1="139.82" x2="542.3" y2="139.82" stroke="#000" stroke-width="1.9"/>
<line x1="701.8" y1="139.82" x2="706.1" y2="139.82" stroke="#000" stroke-width="1.9"/>
<line x1="546.6" y1="108.94" x2="542.3" y2="108.94" stroke="#000" stroke-width="1.9"/>
<line x1="701.8" y1="108.94" x2="706.1" y2="108.94" stroke="#000" stroke-width="1.9"/>
<line x1="546.6" y1="78.06" x2="542.3" y2="78.06" stroke="#000" stroke-width="1.9"/>
<line x1="701.8" y1="78.06" x2="706.1" y2="78.06" stroke="#000" stroke-width="1.9"/>
<line x1="546.6" y1="47.18" x2="542.3" y2="47.18" stroke="#000" stroke-width="1.9"/>
<line x1="701.8" y1="47.18" x2="706.1" y2="47.18" stroke="#000" stroke-width="1.9"/>
<line x1="546.6" y1="16.3" x2="542.3" y2="16.3" stroke="#000" stroke-width="1.9"/>
<line x1="701.8" y1="16.3" x2="706.1" y2="16.3" stroke="#000" stroke-width="1.9"/>
<text x="546.6" y="187.7" font-size="11.5" font-weight="bold" text-anchor="middle" fill="#000">0</text>
<text x="572.47" y="187.7" font-size="11.5" font-weight="bold" text-anchor="middle" fill="#000">2</text>
<text x="598.33" y="187.7" font-size="11.5" font-weight="bold" text-anchor="middle" fill="#000">4</text>
<text x="624.2" y="187.7" font-size="11.5" font-weight="bold" text-anchor="middle" fill="#000">6</text>
<text x="650.07" y="187.7" font-size="11.5" font-weight="bold" text-anchor="middle" fill="#000">8</text>
<text x="675.93" y="187.7" font-size="11.5" font-weight="bold" text-anchor="middle" fill="#000">10</text>
<text x="701.8" y="187.7" font-size="11.5" font-weight="bold" text-anchor="middle" fill="#000">12</text>
<text x="540.7" y="174.8" font-size="11.5" font-weight="bold" text-anchor="end" fill="#000">0</text>
<text x="540.7" y="143.92" font-size="11.5" font-weight="bold" text-anchor="end" fill="#000">1000</text>
<text x="540.7" y="113.04" font-size="11.5" font-weight="bold" text-anchor="end" fill="#000">2000</text>
<text x="540.7" y="82.16" font-size="11.5" font-weight="bold" text-anchor="end" fill="#000">3000</text>
<text x="540.7" y="51.28" font-size="11.5" font-weight="bold" text-anchor="end" fill="#000">4000</text>
<text x="540.7" y="20.4" font-size="11.5" font-weight="bold" text-anchor="end" fill="#000">5000</text>
<text x="624.2" y="205.8" font-size="11.6" font-weight="bold" text-anchor="middle" fill="#000">Runtime [d]</text>
<text x="507.7" y="93.5" font-size="11.75" font-weight="bold" text-anchor="middle" transform="rotate(-90 507.7 93.5)">Product conc. [mg/L]</text>
<text x="481.6" y="15.5" font-size="20" font-weight="bold" text-anchor="start" fill="#000">c</text>
<line x1="78.5" y1="239" x2="78.5" y2="391.6" stroke="#111" stroke-width="1.0" stroke-dasharray="1 1"/>
<line x1="104.5" y1="239" x2="104.5" y2="391.6" stroke="#111" stroke-width="1.0" stroke-dasharray="1 1"/>
<line x1="130.5" y1="239" x2="130.5" y2="391.6" stroke="#111" stroke-width="1.0" stroke-dasharray="1 1"/>
<line x1="156.5" y1="239" x2="156.5" y2="391.6" stroke="#111" stroke-width="1.0" stroke-dasharray="1 1"/>
<line x1="182.5" y1="239" x2="182.5" y2="391.6" stroke="#111" stroke-width="1.0" stroke-dasharray="1 1"/>
<line x1="54" y1="361.5" x2="207" y2="361.5" stroke="#111" stroke-width="1.0" stroke-dasharray="1 1"/>
<line x1="54" y1="330.5" x2="207" y2="330.5" stroke="#111" stroke-width="1.0" stroke-dasharray="1 1"/>
<line x1="54" y1="299.5" x2="207" y2="299.5" stroke="#111" stroke-width="1.0" stroke-dasharray="1 1"/>
<line x1="54" y1="268.5" x2="207" y2="268.5" stroke="#111" stroke-width="1.0" stroke-dasharray="1 1"/>
<path d="M53 352.09 L65.92 303.24 L78.83 319.01 L91.75 334.47 L91.75 304.48 L104.67 318.39 L117.58 323.34 L130.5 346.22 L130.5 298.91 L143.42 365.39 L143.42 298.91 L156.33 350.86 L156.33 298.91 L169.25 337.87 L169.25 298.91 L182.17 317.77 L195.08 323.96" fill="none" stroke="#9c9c9c" stroke-width="1.7" stroke-linejoin="round"/>
<path d="M53 356.29 L56.99 349.57 L49.01 349.57Z" fill="#9c9c9c"/>
<path d="M65.92 307.44 L69.91 300.72 L61.93 300.72Z" fill="#9c9c9c"/>
<path d="M78.83 323.21 L82.82 316.49 L74.84 316.49Z" fill="#9c9c9c"/>
<path d="M91.75 338.67 L95.74 331.95 L87.76 331.95Z" fill="#9c9c9c"/>
<path d="M91.75 308.68 L95.74 301.96 L87.76 301.96Z" fill="#9c9c9c"/>
<path d="M104.67 322.59 L108.66 315.87 L100.68 315.87Z" fill="#9c9c9c"/>
<path d="M117.58 327.54 L121.57 320.82 L113.59 320.82Z" fill="#9c9c9c"/>
<path d="M130.5 350.42 L134.49 343.7 L126.51 343.7Z" fill="#9c9c9c"/>
<path d="M130.5 303.11 L134.49 296.39 L126.51 296.39Z" fill="#9c9c9c"/>
<path d="M143.42 369.59 L147.41 362.87 L139.43 362.87Z" fill="#9c9c9c"/>
<path d="M143.42 303.11 L147.41 296.39 L139.43 296.39Z" fill="#9c9c9c"/>
<path d="M156.33 355.06 L160.32 348.34 L152.34 348.34Z" fill="#9c9c9c"/>
<path d="M156.33 303.11 L160.32 296.39 L152.34 296.39Z" fill="#9c9c9c"/>
<path d="M169.25 342.07 L173.24 335.35 L165.26 335.35Z" fill="#9c9c9c"/>
<path d="M169.25 303.11 L173.24 296.39 L165.26 296.39Z" fill="#9c9c9c"/>
<path d="M182.17 321.97 L186.16 315.25 L178.18 315.25Z" fill="#9c9c9c"/>
<path d="M195.08 328.16 L199.07 321.44 L191.09 321.44Z" fill="#9c9c9c"/>
<path d="M53 348.69 L65.92 285 L78.83 311.28 L91.75 320.25 L104.67 339.42 L117.58 349.93 L130.5 364.77 L130.5 302.93 L143.42 339.73 L156.33 357.35 L169.25 368.17 L182.17 374.67 L195.08 376.21" fill="none" stroke="#5a5a5a" stroke-width="1.7" stroke-linejoin="round"/>
<path d="M53 344.49 L56.99 351.21 L49.01 351.21Z" fill="#5a5a5a"/>
<path d="M65.92 280.8 L69.91 287.52 L61.93 287.52Z" fill="#5a5a5a"/>
<path d="M78.83 307.08 L82.82 313.8 L74.84 313.8Z" fill="#5a5a5a"/>
<path d="M91.75 316.05 L95.74 322.77 L87.76 322.77Z" fill="#5a5a5a"/>
<path d="M104.67 335.22 L108.66 341.94 L100.68 341.94Z" fill="#5a5a5a"/>
<path d="M117.58 345.73 L121.57 352.45 L113.59 352.45Z" fill="#5a5a5a"/>
<path d="M130.5 360.57 L134.49 367.29 L126.51 367.29Z" fill="#5a5a5a"/>
<path d="M130.5 298.73 L134.49 305.45 L126.51 305.45Z" fill="#5a5a5a"/>
<path d="M143.42 335.53 L147.41 342.25 L139.43 342.25Z" fill="#5a5a5a"/>
<path d="M156.33 353.15 L160.32 359.87 L152.34 359.87Z" fill="#5a5a5a"/>
<path d="M169.25 363.97 L173.24 370.69 L165.26 370.69Z" fill="#5a5a5a"/>
<path d="M182.17 370.47 L186.16 377.19 L178.18 377.19Z" fill="#5a5a5a"/>
<path d="M195.08 372.01 L199.07 378.73 L191.09 378.73Z" fill="#5a5a5a"/>
<path d="M53 346.84 L65.92 276.34 L78.83 297.68 L91.75 306.02 L104.67 317.46 L117.58 333.85 L130.5 347.77 L143.42 356.42 L156.33 351.48 L169.25 345.29 L182.17 350.86 L195.08 356.42" fill="none" stroke="#222222" stroke-width="2.0" stroke-linejoin="round"/>
<line x1="65.92" y1="263.97" x2="65.92" y2="288.71" stroke="#222222" stroke-width="1.8"/>
<line x1="62.92" y1="263.97" x2="68.92" y2="263.97" stroke="#222222" stroke-width="1.8"/>
<line x1="62.92" y1="288.71" x2="68.92" y2="288.71" stroke="#222222" stroke-width="1.8"/>
<line x1="78.83" y1="285.31" x2="78.83" y2="310.04" stroke="#222222" stroke-width="1.8"/>
<line x1="75.83" y1="285.31" x2="81.83" y2="285.31" stroke="#222222" stroke-width="1.8"/>
<line x1="75.83" y1="310.04" x2="81.83" y2="310.04" stroke="#222222" stroke-width="1.8"/>
<line x1="91.75" y1="295.2" x2="91.75" y2="316.85" stroke="#222222" stroke-width="1.8"/>
<line x1="88.75" y1="295.2" x2="94.75" y2="295.2" stroke="#222222" stroke-width="1.8"/>
<line x1="88.75" y1="316.85" x2="94.75" y2="316.85" stroke="#222222" stroke-width="1.8"/>
<line x1="104.67" y1="310.66" x2="104.67" y2="324.27" stroke="#222222" stroke-width="1.8"/>
<line x1="101.67" y1="310.66" x2="107.67" y2="310.66" stroke="#222222" stroke-width="1.8"/>
<line x1="101.67" y1="324.27" x2="107.67" y2="324.27" stroke="#222222" stroke-width="1.8"/>
<line x1="117.58" y1="327.67" x2="117.58" y2="340.04" stroke="#222222" stroke-width="1.8"/>
<line x1="114.58" y1="327.67" x2="120.58" y2="327.67" stroke="#222222" stroke-width="1.8"/>
<line x1="114.58" y1="340.04" x2="120.58" y2="340.04" stroke="#222222" stroke-width="1.8"/>
<line x1="130.5" y1="341.58" x2="130.5" y2="353.95" stroke="#222222" stroke-width="1.8"/>
<line x1="127.5" y1="341.58" x2="133.5" y2="341.58" stroke="#222222" stroke-width="1.8"/>
<line x1="127.5" y1="353.95" x2="133.5" y2="353.95" stroke="#222222" stroke-width="1.8"/>
<line x1="143.42" y1="350.24" x2="143.42" y2="362.61" stroke="#222222" stroke-width="1.8"/>
<line x1="140.42" y1="350.24" x2="146.42" y2="350.24" stroke="#222222" stroke-width="1.8"/>
<line x1="140.42" y1="362.61" x2="146.42" y2="362.61" stroke="#222222" stroke-width="1.8"/>
<line x1="156.33" y1="348.38" x2="156.33" y2="354.57" stroke="#222222" stroke-width="1.8"/>
<line x1="153.33" y1="348.38" x2="159.33" y2="348.38" stroke="#222222" stroke-width="1.8"/>
<line x1="153.33" y1="354.57" x2="159.33" y2="354.57" stroke="#222222" stroke-width="1.8"/>
<line x1="169.25" y1="337.56" x2="169.25" y2="353.02" stroke="#222222" stroke-width="1.8"/>
<line x1="166.25" y1="337.56" x2="172.25" y2="337.56" stroke="#222222" stroke-width="1.8"/>
<line x1="166.25" y1="353.02" x2="172.25" y2="353.02" stroke="#222222" stroke-width="1.8"/>
<line x1="182.17" y1="343.13" x2="182.17" y2="358.59" stroke="#222222" stroke-width="1.8"/>
<line x1="179.17" y1="343.13" x2="185.17" y2="343.13" stroke="#222222" stroke-width="1.8"/>
<line x1="179.17" y1="358.59" x2="185.17" y2="358.59" stroke="#222222" stroke-width="1.8"/>
<line x1="195.08" y1="350.24" x2="195.08" y2="362.61" stroke="#222222" stroke-width="1.8"/>
<line x1="192.08" y1="350.24" x2="198.08" y2="350.24" stroke="#222222" stroke-width="1.8"/>
<line x1="192.08" y1="362.61" x2="198.08" y2="362.61" stroke="#222222" stroke-width="1.8"/>
<rect x="49.5" y="343.34" width="7" height="7" fill="#222222"/>
<rect x="62.42" y="272.84" width="7" height="7" fill="#222222"/>
<rect x="75.33" y="294.18" width="7" height="7" fill="#222222"/>
<rect x="88.25" y="302.52" width="7" height="7" fill="#222222"/>
<rect x="101.17" y="313.96" width="7" height="7" fill="#222222"/>
<rect x="114.08" y="330.35" width="7" height="7" fill="#222222"/>
<rect x="127" y="344.27" width="7" height="7" fill="#222222"/>
<rect x="139.92" y="352.92" width="7" height="7" fill="#222222"/>
<rect x="152.83" y="347.98" width="7" height="7" fill="#222222"/>
<rect x="165.75" y="341.79" width="7" height="7" fill="#222222"/>
<rect x="178.67" y="347.36" width="7" height="7" fill="#222222"/>
<rect x="191.58" y="352.92" width="7" height="7" fill="#222222"/>
<path d="M53 390.44 L65.92 370.65 L78.83 331.07 L91.75 295.51 L104.67 287.78 L117.58 291.18 L130.5 302.62 L143.42 309.73 L156.33 311.9 L169.25 318.08 L182.17 328.6 L195.08 335.4" fill="none" stroke="#000000" stroke-width="2.0" stroke-linejoin="round"/>
<line x1="78.83" y1="322.72" x2="78.83" y2="339.42" stroke="#000000" stroke-width="1.8"/>
<line x1="75.83" y1="322.72" x2="81.83" y2="322.72" stroke="#000000" stroke-width="1.8"/>
<line x1="75.83" y1="339.42" x2="81.83" y2="339.42" stroke="#000000" stroke-width="1.8"/>
<line x1="91.75" y1="287.78" x2="91.75" y2="303.24" stroke="#000000" stroke-width="1.8"/>
<line x1="88.75" y1="287.78" x2="94.75" y2="287.78" stroke="#000000" stroke-width="1.8"/>
<line x1="88.75" y1="303.24" x2="94.75" y2="303.24" stroke="#000000" stroke-width="1.8"/>
<line x1="104.67" y1="280.98" x2="104.67" y2="294.58" stroke="#000000" stroke-width="1.8"/>
<line x1="101.67" y1="280.98" x2="107.67" y2="280.98" stroke="#000000" stroke-width="1.8"/>
<line x1="101.67" y1="294.58" x2="107.67" y2="294.58" stroke="#000000" stroke-width="1.8"/>
<line x1="117.58" y1="280.36" x2="117.58" y2="302" stroke="#000000" stroke-width="1.8"/>
<line x1="114.58" y1="280.36" x2="120.58" y2="280.36" stroke="#000000" stroke-width="1.8"/>
<line x1="114.58" y1="302" x2="120.58" y2="302" stroke="#000000" stroke-width="1.8"/>
<line x1="130.5" y1="293.35" x2="130.5" y2="311.9" stroke="#000000" stroke-width="1.8"/>
<line x1="127.5" y1="293.35" x2="133.5" y2="293.35" stroke="#000000" stroke-width="1.8"/>
<line x1="127.5" y1="311.9" x2="133.5" y2="311.9" stroke="#000000" stroke-width="1.8"/>
<line x1="143.42" y1="304.48" x2="143.42" y2="314.99" stroke="#000000" stroke-width="1.8"/>
<line x1="140.42" y1="304.48" x2="146.42" y2="304.48" stroke="#000000" stroke-width="1.8"/>
<line x1="140.42" y1="314.99" x2="146.42" y2="314.99" stroke="#000000" stroke-width="1.8"/>
<line x1="156.33" y1="306.64" x2="156.33" y2="317.16" stroke="#000000" stroke-width="1.8"/>
<line x1="153.33" y1="306.64" x2="159.33" y2="306.64" stroke="#000000" stroke-width="1.8"/>
<line x1="153.33" y1="317.16" x2="159.33" y2="317.16" stroke="#000000" stroke-width="1.8"/>
<line x1="169.25" y1="312.83" x2="169.25" y2="323.34" stroke="#000000" stroke-width="1.8"/>
<line x1="166.25" y1="312.83" x2="172.25" y2="312.83" stroke="#000000" stroke-width="1.8"/>
<line x1="166.25" y1="323.34" x2="172.25" y2="323.34" stroke="#000000" stroke-width="1.8"/>
<line x1="182.17" y1="320.87" x2="182.17" y2="336.33" stroke="#000000" stroke-width="1.8"/>
<line x1="179.17" y1="320.87" x2="185.17" y2="320.87" stroke="#000000" stroke-width="1.8"/>
<line x1="179.17" y1="336.33" x2="185.17" y2="336.33" stroke="#000000" stroke-width="1.8"/>
<line x1="195.08" y1="329.21" x2="195.08" y2="341.58" stroke="#000000" stroke-width="1.8"/>
<line x1="192.08" y1="329.21" x2="198.08" y2="329.21" stroke="#000000" stroke-width="1.8"/>
<line x1="192.08" y1="341.58" x2="198.08" y2="341.58" stroke="#000000" stroke-width="1.8"/>
<circle cx="53" cy="390.44" r="3.2" fill="#000000"/>
<circle cx="65.92" cy="370.65" r="3.2" fill="#000000"/>
<circle cx="78.83" cy="331.07" r="3.2" fill="#000000"/>
<circle cx="91.75" cy="295.51" r="3.2" fill="#000000"/>
<circle cx="104.67" cy="287.78" r="3.2" fill="#000000"/>
<circle cx="117.58" cy="291.18" r="3.2" fill="#000000"/>
<circle cx="130.5" cy="302.62" r="3.2" fill="#000000"/>
<circle cx="143.42" cy="309.73" r="3.2" fill="#000000"/>
<circle cx="156.33" cy="311.9" r="3.2" fill="#000000"/>
<circle cx="169.25" cy="318.08" r="3.2" fill="#000000"/>
<circle cx="182.17" cy="328.6" r="3.2" fill="#000000"/>
<circle cx="195.08" cy="335.4" r="3.2" fill="#000000"/>
<line x1="53" y1="237.05" x2="53" y2="393.55" stroke="#000" stroke-width="1.9"/>
<line x1="208" y1="237.05" x2="208" y2="393.55" stroke="#000" stroke-width="1.9"/>
<line x1="52.05" y1="392.6" x2="208.95" y2="392.6" stroke="#000" stroke-width="1.9"/>
<line x1="52.05" y1="238" x2="208.95" y2="238" stroke="#000" stroke-width="1.9"/>
<line x1="53" y1="392.6" x2="53" y2="396.9" stroke="#000" stroke-width="1.9"/>
<line x1="53" y1="238" x2="53" y2="233.7" stroke="#000" stroke-width="1.9"/>
<line x1="78.83" y1="392.6" x2="78.83" y2="396.9" stroke="#000" stroke-width="1.9"/>
<line x1="78.83" y1="238" x2="78.83" y2="233.7" stroke="#000" stroke-width="1.9"/>
<line x1="104.67" y1="392.6" x2="104.67" y2="396.9" stroke="#000" stroke-width="1.9"/>
<line x1="104.67" y1="238" x2="104.67" y2="233.7" stroke="#000" stroke-width="1.9"/>
<line x1="130.5" y1="392.6" x2="130.5" y2="396.9" stroke="#000" stroke-width="1.9"/>
<line x1="130.5" y1="238" x2="130.5" y2="233.7" stroke="#000" stroke-width="1.9"/>
<line x1="156.33" y1="392.6" x2="156.33" y2="396.9" stroke="#000" stroke-width="1.9"/>
<line x1="156.33" y1="238" x2="156.33" y2="233.7" stroke="#000" stroke-width="1.9"/>
<line x1="182.17" y1="392.6" x2="182.17" y2="396.9" stroke="#000" stroke-width="1.9"/>
<line x1="182.17" y1="238" x2="182.17" y2="233.7" stroke="#000" stroke-width="1.9"/>
<line x1="208" y1="392.6" x2="208" y2="396.9" stroke="#000" stroke-width="1.9"/>
<line x1="208" y1="238" x2="208" y2="233.7" stroke="#000" stroke-width="1.9"/>
<line x1="65.92" y1="392.6" x2="65.92" y2="395.1" stroke="#000" stroke-width="1.9"/>
<line x1="65.92" y1="238" x2="65.92" y2="235.5" stroke="#000" stroke-width="1.9"/>
<line x1="91.75" y1="392.6" x2="91.75" y2="395.1" stroke="#000" stroke-width="1.9"/>
<line x1="91.75" y1="238" x2="91.75" y2="235.5" stroke="#000" stroke-width="1.9"/>
<line x1="117.58" y1="392.6" x2="117.58" y2="395.1" stroke="#000" stroke-width="1.9"/>
<line x1="117.58" y1="238" x2="117.58" y2="235.5" stroke="#000" stroke-width="1.9"/>
<line x1="143.42" y1="392.6" x2="143.42" y2="395.1" stroke="#000" stroke-width="1.9"/>
<line x1="143.42" y1="238" x2="143.42" y2="235.5" stroke="#000" stroke-width="1.9"/>
<line x1="169.25" y1="392.6" x2="169.25" y2="395.1" stroke="#000" stroke-width="1.9"/>
<line x1="169.25" y1="238" x2="169.25" y2="235.5" stroke="#000" stroke-width="1.9"/>
<line x1="195.08" y1="392.6" x2="195.08" y2="395.1" stroke="#000" stroke-width="1.9"/>
<line x1="195.08" y1="238" x2="195.08" y2="235.5" stroke="#000" stroke-width="1.9"/>
<line x1="53" y1="392.6" x2="48.7" y2="392.6" stroke="#000" stroke-width="1.9"/>
<line x1="208" y1="392.6" x2="212.3" y2="392.6" stroke="#000" stroke-width="1.9"/>
<line x1="53" y1="361.68" x2="48.7" y2="361.68" stroke="#000" stroke-width="1.9"/>
<line x1="208" y1="361.68" x2="212.3" y2="361.68" stroke="#000" stroke-width="1.9"/>
<line x1="53" y1="330.76" x2="48.7" y2="330.76" stroke="#000" stroke-width="1.9"/>
<line x1="208" y1="330.76" x2="212.3" y2="330.76" stroke="#000" stroke-width="1.9"/>
<line x1="53" y1="299.84" x2="48.7" y2="299.84" stroke="#000" stroke-width="1.9"/>
<line x1="208" y1="299.84" x2="212.3" y2="299.84" stroke="#000" stroke-width="1.9"/>
<line x1="53" y1="268.92" x2="48.7" y2="268.92" stroke="#000" stroke-width="1.9"/>
<line x1="208" y1="268.92" x2="212.3" y2="268.92" stroke="#000" stroke-width="1.9"/>
<line x1="53" y1="238" x2="48.7" y2="238" stroke="#000" stroke-width="1.9"/>
<line x1="208" y1="238" x2="212.3" y2="238" stroke="#000" stroke-width="1.9"/>
<text x="53" y="409.6" font-size="11.5" font-weight="bold" text-anchor="middle" fill="#000">0</text>
<text x="78.83" y="409.6" font-size="11.5" font-weight="bold" text-anchor="middle" fill="#000">2</text>
<text x="104.67" y="409.6" font-size="11.5" font-weight="bold" text-anchor="middle" fill="#000">4</text>
<text x="130.5" y="409.6" font-size="11.5" font-weight="bold" text-anchor="middle" fill="#000">6</text>
<text x="156.33" y="409.6" font-size="11.5" font-weight="bold" text-anchor="middle" fill="#000">8</text>
<text x="182.17" y="409.6" font-size="11.5" font-weight="bold" text-anchor="middle" fill="#000">10</text>
<text x="208" y="409.6" font-size="11.5" font-weight="bold" text-anchor="middle" fill="#000">12</text>
<text x="47.1" y="396.7" font-size="11.5" font-weight="bold" text-anchor="end" fill="#000">0</text>
<text x="47.1" y="365.78" font-size="11.5" font-weight="bold" text-anchor="end" fill="#000">1</text>
<text x="47.1" y="334.86" font-size="11.5" font-weight="bold" text-anchor="end" fill="#000">2</text>
<text x="47.1" y="303.94" font-size="11.5" font-weight="bold" text-anchor="end" fill="#000">3</text>
<text x="47.1" y="273.02" font-size="11.5" font-weight="bold" text-anchor="end" fill="#000">4</text>
<text x="47.1" y="242.1" font-size="11.5" font-weight="bold" text-anchor="end" fill="#000">5</text>
<text x="130.5" y="427.7" font-size="11.6" font-weight="bold" text-anchor="middle" fill="#000">Runtime [d]</text>
<text x="34.3" y="315.3" font-size="12.0" font-weight="bold" text-anchor="middle" transform="rotate(-90 34.3 315.3)">Lac conc. [g/L]</text>
<text x="6.4" y="234.3" font-size="20" font-weight="bold" text-anchor="start" fill="#000">d</text>
<line x1="331.5" y1="239" x2="331.5" y2="391.7" stroke="#111" stroke-width="1.0" stroke-dasharray="1 1"/>
<line x1="356.5" y1="239" x2="356.5" y2="391.7" stroke="#111" stroke-width="1.0" stroke-dasharray="1 1"/>
<line x1="382.5" y1="239" x2="382.5" y2="391.7" stroke="#111" stroke-width="1.0" stroke-dasharray="1 1"/>
<line x1="408.5" y1="239" x2="408.5" y2="391.7" stroke="#111" stroke-width="1.0" stroke-dasharray="1 1"/>
<line x1="434.5" y1="239" x2="434.5" y2="391.7" stroke="#111" stroke-width="1.0" stroke-dasharray="1 1"/>
<line x1="306.3" y1="366.5" x2="459.3" y2="366.5" stroke="#111" stroke-width="1.0" stroke-dasharray="1 1"/>
<line x1="306.3" y1="341.5" x2="459.3" y2="341.5" stroke="#111" stroke-width="1.0" stroke-dasharray="1 1"/>
<line x1="306.3" y1="315.5" x2="459.3" y2="315.5" stroke="#111" stroke-width="1.0" stroke-dasharray="1 1"/>
<line x1="306.3" y1="289.5" x2="459.3" y2="289.5" stroke="#111" stroke-width="1.0" stroke-dasharray="1 1"/>
<line x1="306.3" y1="263.5" x2="459.3" y2="263.5" stroke="#111" stroke-width="1.0" stroke-dasharray="1 1"/>
<path d="M305.3 324.37 L318.22 323.86 L331.13 319.99 L344.05 322.05 L356.97 313.29 L369.88 307.87 L382.8 304.52 L395.72 291.89 L408.63 285.96 L421.55 275.9 L434.47 263.78 L447.38 264.56" fill="none" stroke="#9c9c9c" stroke-width="1.7" stroke-linejoin="round"/>
<path d="M305.3 328.57 L309.29 321.85 L301.31 321.85Z" fill="#9c9c9c"/>
<path d="M318.22 328.06 L322.21 321.34 L314.23 321.34Z" fill="#9c9c9c"/>
<path d="M331.13 324.19 L335.12 317.47 L327.14 317.47Z" fill="#9c9c9c"/>
<path d="M344.05 326.25 L348.04 319.53 L340.06 319.53Z" fill="#9c9c9c"/>
<path d="M356.97 317.49 L360.96 310.77 L352.98 310.77Z" fill="#9c9c9c"/>
<path d="M369.88 312.07 L373.87 305.35 L365.89 305.35Z" fill="#9c9c9c"/>
<path d="M382.8 308.72 L386.79 302 L378.81 302Z" fill="#9c9c9c"/>
<path d="M395.72 296.09 L399.71 289.37 L391.73 289.37Z" fill="#9c9c9c"/>
<path d="M408.63 290.16 L412.62 283.44 L404.64 283.44Z" fill="#9c9c9c"/>
<path d="M421.55 280.1 L425.54 273.38 L417.56 273.38Z" fill="#9c9c9c"/>
<path d="M434.47 267.98 L438.46 261.26 L430.48 261.26Z" fill="#9c9c9c"/>
<path d="M447.38 268.76 L451.37 262.04 L443.39 262.04Z" fill="#9c9c9c"/>
<path d="M305.3 318.19 L318.22 314.58 L331.13 310.19 L344.05 309.42 L356.97 304.52 L369.88 304.52 L382.8 301.94 L395.72 293.69 L408.63 287.5 L421.55 284.15 L434.47 280.8 L447.38 276.42" fill="none" stroke="#5a5a5a" stroke-width="1.7" stroke-linejoin="round"/>
<path d="M305.3 313.99 L309.29 320.71 L301.31 320.71Z" fill="#5a5a5a"/>
<path d="M318.22 310.38 L322.21 317.1 L314.23 317.1Z" fill="#5a5a5a"/>
<path d="M331.13 305.99 L335.12 312.71 L327.14 312.71Z" fill="#5a5a5a"/>
<path d="M344.05 305.22 L348.04 311.94 L340.06 311.94Z" fill="#5a5a5a"/>
<path d="M356.97 300.32 L360.96 307.04 L352.98 307.04Z" fill="#5a5a5a"/>
<path d="M369.88 300.32 L373.87 307.04 L365.89 307.04Z" fill="#5a5a5a"/>
<path d="M382.8 297.74 L386.79 304.46 L378.81 304.46Z" fill="#5a5a5a"/>
<path d="M395.72 289.49 L399.71 296.21 L391.73 296.21Z" fill="#5a5a5a"/>
<path d="M408.63 283.3 L412.62 290.02 L404.64 290.02Z" fill="#5a5a5a"/>
<path d="M421.55 279.95 L425.54 286.67 L417.56 286.67Z" fill="#5a5a5a"/>
<path d="M434.47 276.6 L438.46 283.32 L430.48 283.32Z" fill="#5a5a5a"/>
<path d="M447.38 272.22 L451.37 278.94 L443.39 278.94Z" fill="#5a5a5a"/>
<path d="M305.3 317.67 L318.22 313.03 L331.13 306.84 L344.05 306.33 L356.97 302.72 L369.88 303.49 L382.8 298.08 L395.72 294.72 L408.63 288.79 L421.55 275.9 L434.47 273.32 L447.38 266.1" fill="none" stroke="#222222" stroke-width="2.0" stroke-linejoin="round"/>
<line x1="369.88" y1="298.33" x2="369.88" y2="308.65" stroke="#222222" stroke-width="1.8"/>
<line x1="366.88" y1="298.33" x2="372.88" y2="298.33" stroke="#222222" stroke-width="1.8"/>
<line x1="366.88" y1="308.65" x2="372.88" y2="308.65" stroke="#222222" stroke-width="1.8"/>
<line x1="382.8" y1="292.92" x2="382.8" y2="303.23" stroke="#222222" stroke-width="1.8"/>
<line x1="379.8" y1="292.92" x2="385.8" y2="292.92" stroke="#222222" stroke-width="1.8"/>
<line x1="379.8" y1="303.23" x2="385.8" y2="303.23" stroke="#222222" stroke-width="1.8"/>
<line x1="395.72" y1="288.02" x2="395.72" y2="301.43" stroke="#222222" stroke-width="1.8"/>
<line x1="392.72" y1="288.02" x2="398.72" y2="288.02" stroke="#222222" stroke-width="1.8"/>
<line x1="392.72" y1="301.43" x2="398.72" y2="301.43" stroke="#222222" stroke-width="1.8"/>
<line x1="408.63" y1="281.06" x2="408.63" y2="296.53" stroke="#222222" stroke-width="1.8"/>
<line x1="405.63" y1="281.06" x2="411.63" y2="281.06" stroke="#222222" stroke-width="1.8"/>
<line x1="405.63" y1="296.53" x2="411.63" y2="296.53" stroke="#222222" stroke-width="1.8"/>
<line x1="421.55" y1="270.74" x2="421.55" y2="281.06" stroke="#222222" stroke-width="1.8"/>
<line x1="418.55" y1="270.74" x2="424.55" y2="270.74" stroke="#222222" stroke-width="1.8"/>
<line x1="418.55" y1="281.06" x2="424.55" y2="281.06" stroke="#222222" stroke-width="1.8"/>
<line x1="434.47" y1="264.3" x2="434.47" y2="282.35" stroke="#222222" stroke-width="1.8"/>
<line x1="431.47" y1="264.3" x2="437.47" y2="264.3" stroke="#222222" stroke-width="1.8"/>
<line x1="431.47" y1="282.35" x2="437.47" y2="282.35" stroke="#222222" stroke-width="1.8"/>
<line x1="447.38" y1="254.24" x2="447.38" y2="277.96" stroke="#222222" stroke-width="1.8"/>
<line x1="444.38" y1="254.24" x2="450.38" y2="254.24" stroke="#222222" stroke-width="1.8"/>
<line x1="444.38" y1="277.96" x2="450.38" y2="277.96" stroke="#222222" stroke-width="1.8"/>
<rect x="301.8" y="314.17" width="7" height="7" fill="#222222"/>
<rect x="314.72" y="309.53" width="7" height="7" fill="#222222"/>
<rect x="327.63" y="303.34" width="7" height="7" fill="#222222"/>
<rect x="340.55" y="302.83" width="7" height="7" fill="#222222"/>
<rect x="353.47" y="299.22" width="7" height="7" fill="#222222"/>
<rect x="366.38" y="299.99" width="7" height="7" fill="#222222"/>
<rect x="379.3" y="294.58" width="7" height="7" fill="#222222"/>
<rect x="392.22" y="291.22" width="7" height="7" fill="#222222"/>
<rect x="405.13" y="285.29" width="7" height="7" fill="#222222"/>
<rect x="418.05" y="272.4" width="7" height="7" fill="#222222"/>
<rect x="430.97" y="269.82" width="7" height="7" fill="#222222"/>
<rect x="443.88" y="262.6" width="7" height="7" fill="#222222"/>
<path d="M305.3 317.67 L318.22 320.51 L331.13 321.8 L344.05 313.03 L356.97 307.87 L369.88 307.1 L382.8 307.1 L395.72 306.33 L408.63 305.04 L421.55 302.72 L434.47 297.56 L447.38 295.5" fill="none" stroke="#000000" stroke-width="2.0" stroke-linejoin="round"/>
<line x1="369.88" y1="304.01" x2="369.88" y2="310.19" stroke="#000000" stroke-width="1.8"/>
<line x1="366.88" y1="304.01" x2="372.88" y2="304.01" stroke="#000000" stroke-width="1.8"/>
<line x1="366.88" y1="310.19" x2="372.88" y2="310.19" stroke="#000000" stroke-width="1.8"/>
<line x1="382.8" y1="303.49" x2="382.8" y2="310.71" stroke="#000000" stroke-width="1.8"/>
<line x1="379.8" y1="303.49" x2="385.8" y2="303.49" stroke="#000000" stroke-width="1.8"/>
<line x1="379.8" y1="310.71" x2="385.8" y2="310.71" stroke="#000000" stroke-width="1.8"/>
<line x1="395.72" y1="302.72" x2="395.72" y2="309.94" stroke="#000000" stroke-width="1.8"/>
<line x1="392.72" y1="302.72" x2="398.72" y2="302.72" stroke="#000000" stroke-width="1.8"/>
<line x1="392.72" y1="309.94" x2="398.72" y2="309.94" stroke="#000000" stroke-width="1.8"/>
<line x1="408.63" y1="301.43" x2="408.63" y2="308.65" stroke="#000000" stroke-width="1.8"/>
<line x1="405.63" y1="301.43" x2="411.63" y2="301.43" stroke="#000000" stroke-width="1.8"/>
<line x1="405.63" y1="308.65" x2="411.63" y2="308.65" stroke="#000000" stroke-width="1.8"/>
<line x1="421.55" y1="295.75" x2="421.55" y2="309.68" stroke="#000000" stroke-width="1.8"/>
<line x1="418.55" y1="295.75" x2="424.55" y2="295.75" stroke="#000000" stroke-width="1.8"/>
<line x1="418.55" y1="309.68" x2="424.55" y2="309.68" stroke="#000000" stroke-width="1.8"/>
<line x1="434.47" y1="294.21" x2="434.47" y2="300.91" stroke="#000000" stroke-width="1.8"/>
<line x1="431.47" y1="294.21" x2="437.47" y2="294.21" stroke="#000000" stroke-width="1.8"/>
<line x1="431.47" y1="300.91" x2="437.47" y2="300.91" stroke="#000000" stroke-width="1.8"/>
<line x1="447.38" y1="292.14" x2="447.38" y2="298.85" stroke="#000000" stroke-width="1.8"/>
<line x1="444.38" y1="292.14" x2="450.38" y2="292.14" stroke="#000000" stroke-width="1.8"/>
<line x1="444.38" y1="298.85" x2="450.38" y2="298.85" stroke="#000000" stroke-width="1.8"/>
<circle cx="305.3" cy="317.67" r="3.2" fill="#000000"/>
<circle cx="318.22" cy="320.51" r="3.2" fill="#000000"/>
<circle cx="331.13" cy="321.8" r="3.2" fill="#000000"/>
<circle cx="344.05" cy="313.03" r="3.2" fill="#000000"/>
<circle cx="356.97" cy="307.87" r="3.2" fill="#000000"/>
<circle cx="369.88" cy="307.1" r="3.2" fill="#000000"/>
<circle cx="382.8" cy="307.1" r="3.2" fill="#000000"/>
<circle cx="395.72" cy="306.33" r="3.2" fill="#000000"/>
<circle cx="408.63" cy="305.04" r="3.2" fill="#000000"/>
<circle cx="421.55" cy="302.72" r="3.2" fill="#000000"/>
<circle cx="434.47" cy="297.56" r="3.2" fill="#000000"/>
<circle cx="447.38" cy="295.5" r="3.2" fill="#000000"/>
<line x1="305.3" y1="237.05" x2="305.3" y2="393.65" stroke="#000" stroke-width="1.9"/>
<line x1="460.3" y1="237.05" x2="460.3" y2="393.65" stroke="#000" stroke-width="1.9"/>
<line x1="304.35" y1="392.7" x2="461.25" y2="392.7" stroke="#000" stroke-width="1.9"/>
<line x1="304.35" y1="238" x2="461.25" y2="238" stroke="#000" stroke-width="1.9"/>
<line x1="305.3" y1="392.7" x2="305.3" y2="397" stroke="#000" stroke-width="1.9"/>
<line x1="305.3" y1="238" x2="305.3" y2="233.7" stroke="#000" stroke-width="1.9"/>
<line x1="331.13" y1="392.7" x2="331.13" y2="397" stroke="#000" stroke-width="1.9"/>
<line x1="331.13" y1="238" x2="331.13" y2="233.7" stroke="#000" stroke-width="1.9"/>
<line x1="356.97" y1="392.7" x2="356.97" y2="397" stroke="#000" stroke-width="1.9"/>
<line x1="356.97" y1="238" x2="356.97" y2="233.7" stroke="#000" stroke-width="1.9"/>
<line x1="382.8" y1="392.7" x2="382.8" y2="397" stroke="#000" stroke-width="1.9"/>
<line x1="382.8" y1="238" x2="382.8" y2="233.7" stroke="#000" stroke-width="1.9"/>
<line x1="408.63" y1="392.7" x2="408.63" y2="397" stroke="#000" stroke-width="1.9"/>
<line x1="408.63" y1="238" x2="408.63" y2="233.7" stroke="#000" stroke-width="1.9"/>
<line x1="434.47" y1="392.7" x2="434.47" y2="397" stroke="#000" stroke-width="1.9"/>
<line x1="434.47" y1="238" x2="434.47" y2="233.7" stroke="#000" stroke-width="1.9"/>
<line x1="460.3" y1="392.7" x2="460.3" y2="397" stroke="#000" stroke-width="1.9"/>
<line x1="460.3" y1="238" x2="460.3" y2="233.7" stroke="#000" stroke-width="1.9"/>
<line x1="318.22" y1="392.7" x2="318.22" y2="395.2" stroke="#000" stroke-width="1.9"/>
<line x1="318.22" y1="238" x2="318.22" y2="235.5" stroke="#000" stroke-width="1.9"/>
<line x1="344.05" y1="392.7" x2="344.05" y2="395.2" stroke="#000" stroke-width="1.9"/>
<line x1="344.05" y1="238" x2="344.05" y2="235.5" stroke="#000" stroke-width="1.9"/>
<line x1="369.88" y1="392.7" x2="369.88" y2="395.2" stroke="#000" stroke-width="1.9"/>
<line x1="369.88" y1="238" x2="369.88" y2="235.5" stroke="#000" stroke-width="1.9"/>
<line x1="395.72" y1="392.7" x2="395.72" y2="395.2" stroke="#000" stroke-width="1.9"/>
<line x1="395.72" y1="238" x2="395.72" y2="235.5" stroke="#000" stroke-width="1.9"/>
<line x1="421.55" y1="392.7" x2="421.55" y2="395.2" stroke="#000" stroke-width="1.9"/>
<line x1="421.55" y1="238" x2="421.55" y2="235.5" stroke="#000" stroke-width="1.9"/>
<line x1="447.38" y1="392.7" x2="447.38" y2="395.2" stroke="#000" stroke-width="1.9"/>
<line x1="447.38" y1="238" x2="447.38" y2="235.5" stroke="#000" stroke-width="1.9"/>
<line x1="305.3" y1="392.7" x2="301" y2="392.7" stroke="#000" stroke-width="1.9"/>
<line x1="460.3" y1="392.7" x2="464.6" y2="392.7" stroke="#000" stroke-width="1.9"/>
<line x1="305.3" y1="366.92" x2="301" y2="366.92" stroke="#000" stroke-width="1.9"/>
<line x1="460.3" y1="366.92" x2="464.6" y2="366.92" stroke="#000" stroke-width="1.9"/>
<line x1="305.3" y1="341.13" x2="301" y2="341.13" stroke="#000" stroke-width="1.9"/>
<line x1="460.3" y1="341.13" x2="464.6" y2="341.13" stroke="#000" stroke-width="1.9"/>
<line x1="305.3" y1="315.35" x2="301" y2="315.35" stroke="#000" stroke-width="1.9"/>
<line x1="460.3" y1="315.35" x2="464.6" y2="315.35" stroke="#000" stroke-width="1.9"/>
<line x1="305.3" y1="289.57" x2="301" y2="289.57" stroke="#000" stroke-width="1.9"/>
<line x1="460.3" y1="289.57" x2="464.6" y2="289.57" stroke="#000" stroke-width="1.9"/>
<line x1="305.3" y1="263.78" x2="301" y2="263.78" stroke="#000" stroke-width="1.9"/>
<line x1="460.3" y1="263.78" x2="464.6" y2="263.78" stroke="#000" stroke-width="1.9"/>
<line x1="305.3" y1="238" x2="301" y2="238" stroke="#000" stroke-width="1.9"/>
<line x1="460.3" y1="238" x2="464.6" y2="238" stroke="#000" stroke-width="1.9"/>
<text x="305.3" y="409.7" font-size="11.5" font-weight="bold" text-anchor="middle" fill="#000">0</text>
<text x="331.13" y="409.7" font-size="11.5" font-weight="bold" text-anchor="middle" fill="#000">2</text>
<text x="356.97" y="409.7" font-size="11.5" font-weight="bold" text-anchor="middle" fill="#000">4</text>
<text x="382.8" y="409.7" font-size="11.5" font-weight="bold" text-anchor="middle" fill="#000">6</text>
<text x="408.63" y="409.7" font-size="11.5" font-weight="bold" text-anchor="middle" fill="#000">8</text>
<text x="434.47" y="409.7" font-size="11.5" font-weight="bold" text-anchor="middle" fill="#000">10</text>
<text x="460.3" y="409.7" font-size="11.5" font-weight="bold" text-anchor="middle" fill="#000">12</text>
<text x="299.4" y="396.8" font-size="11.5" font-weight="bold" text-anchor="end" fill="#000">0</text>
<text x="299.4" y="371.02" font-size="11.5" font-weight="bold" text-anchor="end" fill="#000">100</text>
<text x="299.4" y="345.23" font-size="11.5" font-weight="bold" text-anchor="end" fill="#000">200</text>
<text x="299.4" y="319.45" font-size="11.5" font-weight="bold" text-anchor="end" fill="#000">300</text>
<text x="299.4" y="293.67" font-size="11.5" font-weight="bold" text-anchor="end" fill="#000">400</text>
<text x="299.4" y="267.88" font-size="11.5" font-weight="bold" text-anchor="end" fill="#000">500</text>
<text x="299.4" y="242.1" font-size="11.5" font-weight="bold" text-anchor="end" fill="#000">600</text>
<text x="382.8" y="427.8" font-size="11.6" font-weight="bold" text-anchor="middle" fill="#000">Runtime [d]</text>
<text x="273.3" y="315.35" font-size="11.5" font-weight="bold" text-anchor="middle" transform="rotate(-90 273.3 315.35)">Osmolality [mOsmol/kg]</text>
<text x="249.4" y="234.3" font-size="20" font-weight="bold" text-anchor="start" fill="#000">e</text>
<rect x="558.4" y="279.81" width="23.7" height="112.79" fill="#000000"/>
<rect x="594.15" y="267.07" width="23.7" height="125.53" fill="#202020"/>
<rect x="629.85" y="254.71" width="23.7" height="137.89" fill="#5a5a5a"/>
<rect x="665.45" y="299.13" width="23.7" height="93.47" fill="#a4a4a4"/>
<line x1="570.25" y1="275.18" x2="570.25" y2="284.45" stroke="#444" stroke-width="1.8"/>
<line x1="564.65" y1="275.18" x2="575.85" y2="275.18" stroke="#444" stroke-width="1.8"/>
<line x1="564.65" y1="284.45" x2="575.85" y2="284.45" stroke="#444" stroke-width="1.8"/>
<line x1="606" y1="254.9" x2="606" y2="279.24" stroke="#555" stroke-width="1.8"/>
<line x1="600.4" y1="254.9" x2="611.6" y2="254.9" stroke="#555" stroke-width="1.8"/>
<line x1="600.4" y1="279.24" x2="611.6" y2="279.24" stroke="#555" stroke-width="1.8"/>
<line x1="546.6" y1="237.15" x2="546.6" y2="393.55" stroke="#000" stroke-width="1.9"/>
<line x1="701" y1="237.15" x2="701" y2="393.55" stroke="#000" stroke-width="1.9"/>
<line x1="545.65" y1="392.6" x2="701.95" y2="392.6" stroke="#000" stroke-width="1.9"/>
<line x1="545.65" y1="238.1" x2="701.95" y2="238.1" stroke="#000" stroke-width="1.9"/>
<line x1="570.25" y1="392.6" x2="570.25" y2="398.1" stroke="#000" stroke-width="1.9"/>
<line x1="570.25" y1="238.1" x2="570.25" y2="232.6" stroke="#000" stroke-width="1.9"/>
<line x1="606" y1="392.6" x2="606" y2="398.1" stroke="#000" stroke-width="1.9"/>
<line x1="606" y1="238.1" x2="606" y2="232.6" stroke="#000" stroke-width="1.9"/>
<line x1="641.7" y1="392.6" x2="641.7" y2="398.1" stroke="#000" stroke-width="1.9"/>
<line x1="641.7" y1="238.1" x2="641.7" y2="232.6" stroke="#000" stroke-width="1.9"/>
<line x1="677.3" y1="392.6" x2="677.3" y2="398.1" stroke="#000" stroke-width="1.9"/>
<line x1="677.3" y1="238.1" x2="677.3" y2="232.6" stroke="#000" stroke-width="1.9"/>
<line x1="546.6" y1="392.6" x2="540.6" y2="392.6" stroke="#000" stroke-width="1.9"/>
<line x1="701" y1="392.6" x2="707" y2="392.6" stroke="#000" stroke-width="1.9"/>
<line x1="546.6" y1="353.98" x2="540.6" y2="353.98" stroke="#000" stroke-width="1.9"/>
<line x1="701" y1="353.98" x2="707" y2="353.98" stroke="#000" stroke-width="1.9"/>
<line x1="546.6" y1="315.35" x2="540.6" y2="315.35" stroke="#000" stroke-width="1.9"/>
<line x1="701" y1="315.35" x2="707" y2="315.35" stroke="#000" stroke-width="1.9"/>
<line x1="546.6" y1="276.73" x2="540.6" y2="276.73" stroke="#000" stroke-width="1.9"/>
<line x1="701" y1="276.73" x2="707" y2="276.73" stroke="#000" stroke-width="1.9"/>
<line x1="546.6" y1="238.1" x2="540.6" y2="238.1" stroke="#000" stroke-width="1.9"/>
<line x1="701" y1="238.1" x2="707" y2="238.1" stroke="#000" stroke-width="1.9"/>
<text x="538.6" y="396.6" font-size="11.2" font-weight="bold" text-anchor="end" fill="#000">0</text>
<text x="538.6" y="357.98" font-size="11.2" font-weight="bold" text-anchor="end" fill="#000">10</text>
<text x="538.6" y="319.35" font-size="11.2" font-weight="bold" text-anchor="end" fill="#000">20</text>
<text x="538.6" y="280.73" font-size="11.2" font-weight="bold" text-anchor="end" fill="#000">30</text>
<text x="538.6" y="242.1" font-size="11.2" font-weight="bold" text-anchor="end" fill="#000">40</text>
<text x="623.8" y="414" font-size="11.6" font-weight="bold" text-anchor="middle" fill="#000">Setup</text>
<text x="520.8" y="315.35" font-size="11.2" font-weight="bold" text-anchor="middle" transform="rotate(-90 520.8 315.35)">average qp [pg/c/d]</text>
<text x="481.2" y="234.3" font-size="20" font-weight="bold" text-anchor="start" fill="#000">f</text>
<line x1="1.3" y1="450.3" x2="23.7" y2="450.3" stroke="#000000" stroke-width="2.2"/>
<circle cx="12.5" cy="450.3" r="4" fill="#000000"/>
<text x="35.6" y="455.3" font-size="13.25" font-weight="normal" text-anchor="start" fill="#000">control (lab-scale)</text>
<line x1="162" y1="450.3" x2="184.5" y2="450.3" stroke="#222222" stroke-width="2.2"/>
<rect x="168.88" y="445.93" width="8.75" height="8.75" fill="#222222"/>
<text x="197" y="455.3" font-size="13.25" font-weight="normal" text-anchor="start" fill="#000">uHSD (lab-scale)</text>
<line x1="313" y1="450.3" x2="335" y2="450.3" stroke="#5a5a5a" stroke-width="2.2"/>
<path d="M324 445.05 L328.99 453.45 L319.01 453.45Z" fill="#5a5a5a"/>
<text x="347" y="455.3" font-size="13.25" font-weight="normal" text-anchor="start" fill="#000">uHSD + lac bolus (lab-scale)</text>
<line x1="538.2" y1="450.3" x2="559.3" y2="450.3" stroke="#9c9c9c" stroke-width="2.2"/>
<path d="M548.75 455.55 L553.74 447.15 L543.76 447.15Z" fill="#9c9c9c"/>
<text x="572.5" y="455.3" font-size="13.25" font-weight="normal" text-anchor="start" fill="#000">uHSD + lac bolus (pilot-scale)</text>
<line x1="54.2" y1="540.5" x2="263.3" y2="540.5" stroke="#111" stroke-width="1.0" stroke-dasharray="1 1"/>
<line x1="54.2" y1="567.5" x2="263.3" y2="567.5" stroke="#111" stroke-width="1.0" stroke-dasharray="1 1"/>
<line x1="54.2" y1="594.5" x2="263.3" y2="594.5" stroke="#111" stroke-width="1.0" stroke-dasharray="1 1"/>
<line x1="54.2" y1="621.5" x2="263.3" y2="621.5" stroke="#111" stroke-width="1.0" stroke-dasharray="1 1"/>
<line x1="54.2" y1="632.5" x2="263.3" y2="632.5" stroke="#111" stroke-width="1.0" stroke-dasharray="1 1"/>
<rect x="60.1" y="533.8" width="14.1" height="87.5" fill="#fff"/>
<rect x="60.55" y="533.2" width="13.2" height="88.1" fill="#0a0a0a"/>
<rect x="60.1" y="632.6" width="14.1" height="35.1" fill="#fff"/>
<rect x="60.55" y="632" width="13.2" height="35.7" fill="#0a0a0a"/>
<rect x="74.2" y="537.59" width="14.1" height="83.71" fill="#fff"/>
<rect x="74.65" y="536.99" width="13.2" height="84.31" fill="#222222"/>
<rect x="74.2" y="632.6" width="14.1" height="35.1" fill="#fff"/>
<rect x="74.65" y="632" width="13.2" height="35.7" fill="#222222"/>
<rect x="88.3" y="538.51" width="14.1" height="82.79" fill="#fff"/>
<rect x="88.75" y="537.91" width="13.2" height="83.39" fill="#5c5c5c"/>
<rect x="88.3" y="632.6" width="14.1" height="35.1" fill="#fff"/>
<rect x="88.75" y="632" width="13.2" height="35.7" fill="#5c5c5c"/>
<rect x="102.4" y="534.99" width="14.1" height="86.31" fill="#fff"/>
<rect x="102.85" y="534.39" width="13.2" height="86.91" fill="#929292"/>
<rect x="102.4" y="632.6" width="14.1" height="35.1" fill="#fff"/>
<rect x="102.85" y="632" width="13.2" height="35.7" fill="#929292"/>
<line x1="67.15" y1="529.41" x2="67.15" y2="536.99" stroke="#000" stroke-width="1.8"/>
<line x1="63.8" y1="529.41" x2="70.5" y2="529.41" stroke="#000" stroke-width="1.8"/>
<line x1="63.8" y1="536.99" x2="70.5" y2="536.99" stroke="#000" stroke-width="1.8"/>
<line x1="81.25" y1="534.28" x2="81.25" y2="539.7" stroke="#000" stroke-width="1.8"/>
<line x1="77.9" y1="534.28" x2="84.6" y2="534.28" stroke="#000" stroke-width="1.8"/>
<line x1="77.9" y1="539.7" x2="84.6" y2="539.7" stroke="#000" stroke-width="1.8"/>
<rect x="130.6" y="658.66" width="14.1" height="9.04" fill="#fff"/>
<rect x="131.05" y="658.06" width="13.2" height="9.64" fill="#0a0a0a"/>
<rect x="144.7" y="656.52" width="14.1" height="11.18" fill="#fff"/>
<rect x="145.15" y="655.92" width="13.2" height="11.78" fill="#222222"/>
<rect x="158.8" y="656.88" width="14.1" height="10.82" fill="#fff"/>
<rect x="159.25" y="656.28" width="13.2" height="11.42" fill="#5c5c5c"/>
<rect x="172.9" y="659.38" width="14.1" height="8.32" fill="#fff"/>
<rect x="173.35" y="658.78" width="13.2" height="8.92" fill="#929292"/>
<line x1="137.65" y1="656.28" x2="137.65" y2="659.85" stroke="#000" stroke-width="1.8"/>
<line x1="134.3" y1="656.28" x2="141" y2="656.28" stroke="#000" stroke-width="1.8"/>
<line x1="134.3" y1="659.85" x2="141" y2="659.85" stroke="#000" stroke-width="1.8"/>
<line x1="151.75" y1="654.13" x2="151.75" y2="657.7" stroke="#000" stroke-width="1.8"/>
<line x1="148.4" y1="654.13" x2="155.1" y2="654.13" stroke="#000" stroke-width="1.8"/>
<line x1="148.4" y1="657.7" x2="155.1" y2="657.7" stroke="#000" stroke-width="1.8"/>
<rect x="201.3" y="666.16" width="14.1" height="1.54" fill="#fff"/>
<rect x="201.75" y="665.56" width="13.2" height="2.14" fill="#0a0a0a"/>
<rect x="215.4" y="664.37" width="14.1" height="3.33" fill="#fff"/>
<rect x="215.85" y="663.77" width="13.2" height="3.93" fill="#222222"/>
<rect x="229.5" y="663.3" width="14.1" height="4.4" fill="#fff"/>
<rect x="229.95" y="662.7" width="13.2" height="5" fill="#5c5c5c"/>
<rect x="243.6" y="664.02" width="14.1" height="3.68" fill="#fff"/>
<rect x="244.05" y="663.42" width="13.2" height="4.28" fill="#929292"/>
<line x1="208.35" y1="661.99" x2="208.35" y2="667.7" stroke="#000" stroke-width="1.8"/>
<line x1="205" y1="661.99" x2="211.7" y2="661.99" stroke="#000" stroke-width="1.8"/>
<line x1="222.45" y1="661.99" x2="222.45" y2="665.56" stroke="#000" stroke-width="1.8"/>
<line x1="219.1" y1="661.99" x2="225.8" y2="661.99" stroke="#000" stroke-width="1.8"/>
<line x1="219.1" y1="665.56" x2="225.8" y2="665.56" stroke="#000" stroke-width="1.8"/>
<line x1="53.2" y1="512.05" x2="53.2" y2="621.3" stroke="#000" stroke-width="1.9"/>
<line x1="53.2" y1="632" x2="53.2" y2="668.65" stroke="#000" stroke-width="1.9"/>
<line x1="264.3" y1="512.05" x2="264.3" y2="621.3" stroke="#000" stroke-width="1.9"/>
<line x1="264.3" y1="632" x2="264.3" y2="668.65" stroke="#000" stroke-width="1.9"/>
<line x1="52.25" y1="667.7" x2="265.25" y2="667.7" stroke="#000" stroke-width="1.9"/>
<line x1="52.25" y1="513" x2="265.25" y2="513" stroke="#000" stroke-width="1.9"/>
<line x1="88.3" y1="667.7" x2="88.3" y2="671.7" stroke="#000" stroke-width="1.9"/>
<line x1="88.3" y1="513" x2="88.3" y2="509" stroke="#000" stroke-width="1.9"/>
<line x1="158.8" y1="667.7" x2="158.8" y2="671.7" stroke="#000" stroke-width="1.9"/>
<line x1="158.8" y1="513" x2="158.8" y2="509" stroke="#000" stroke-width="1.9"/>
<line x1="229.5" y1="667.7" x2="229.5" y2="671.7" stroke="#000" stroke-width="1.9"/>
<line x1="229.5" y1="513" x2="229.5" y2="509" stroke="#000" stroke-width="1.9"/>
<line x1="53.2" y1="513" x2="49.2" y2="513" stroke="#000" stroke-width="1.9"/>
<line x1="264.3" y1="513" x2="268.3" y2="513" stroke="#000" stroke-width="1.9"/>
<line x1="53.2" y1="540.08" x2="49.2" y2="540.08" stroke="#000" stroke-width="1.9"/>
<line x1="264.3" y1="540.08" x2="268.3" y2="540.08" stroke="#000" stroke-width="1.9"/>
<line x1="53.2" y1="567.15" x2="49.2" y2="567.15" stroke="#000" stroke-width="1.9"/>
<line x1="264.3" y1="567.15" x2="268.3" y2="567.15" stroke="#000" stroke-width="1.9"/>
<line x1="53.2" y1="594.22" x2="49.2" y2="594.22" stroke="#000" stroke-width="1.9"/>
<line x1="264.3" y1="594.22" x2="268.3" y2="594.22" stroke="#000" stroke-width="1.9"/>
<line x1="53.2" y1="667.7" x2="49.2" y2="667.7" stroke="#000" stroke-width="1.9"/>
<line x1="264.3" y1="667.7" x2="268.3" y2="667.7" stroke="#000" stroke-width="1.9"/>
<line x1="49.6" y1="617.7" x2="56.8" y2="624.9" stroke="#000" stroke-width="1.6"/>
<line x1="49.6" y1="628.4" x2="56.8" y2="635.6" stroke="#000" stroke-width="1.6"/>
<line x1="260.7" y1="617.7" x2="267.9" y2="624.9" stroke="#000" stroke-width="1.6"/>
<line x1="260.7" y1="628.4" x2="267.9" y2="635.6" stroke="#000" stroke-width="1.6"/>
<text x="47.6" y="517" font-size="11.2" font-weight="bold" text-anchor="end" fill="#000">100</text>
<text x="47.6" y="544.08" font-size="11.2" font-weight="bold" text-anchor="end" fill="#000">95</text>
<text x="47.6" y="571.15" font-size="11.2" font-weight="bold" text-anchor="end" fill="#000">90</text>
<text x="47.6" y="598.22" font-size="11.2" font-weight="bold" text-anchor="end" fill="#000">85</text>
<text x="47.6" y="625.3" font-size="11.2" font-weight="bold" text-anchor="end" fill="#000">80</text>
<text x="47.6" y="636" font-size="11.2" font-weight="bold" text-anchor="end" fill="#000">10</text>
<text x="47.6" y="671.7" font-size="11.2" font-weight="bold" text-anchor="end" fill="#000">0</text>
<text x="91.5" y="682.5" font-size="11.6" font-weight="bold" text-anchor="end" transform="rotate(-45 91.5 682.5)">Main</text>
<text x="162" y="682.5" font-size="11.6" font-weight="bold" text-anchor="end" transform="rotate(-45 162 682.5)">HMW</text>
<text x="232.7" y="682.5" font-size="11.6" font-weight="bold" text-anchor="end" transform="rotate(-45 232.7 682.5)">LMW</text>
<text x="21" y="589.35" font-size="11.9" font-weight="bold" text-anchor="middle" transform="rotate(-90 21 589.35)">Peak area [%]</text>
<text x="6.4" y="510.3" font-size="20" font-weight="bold" text-anchor="start" fill="#000">g</text>
<line x1="367" y1="628.5" x2="576.2" y2="628.5" stroke="#111" stroke-width="1.0" stroke-dasharray="1 1"/>
<line x1="367" y1="590.5" x2="576.2" y2="590.5" stroke="#111" stroke-width="1.0" stroke-dasharray="1 1"/>
<line x1="367" y1="551.5" x2="576.2" y2="551.5" stroke="#111" stroke-width="1.0" stroke-dasharray="1 1"/>
<rect x="372.7" y="595.33" width="14" height="71.97" fill="#fff"/>
<rect x="373.15" y="594.73" width="13.1" height="72.57" fill="#0a0a0a"/>
<rect x="386.7" y="592.63" width="14" height="74.67" fill="#fff"/>
<rect x="387.15" y="592.03" width="13.1" height="75.27" fill="#222222"/>
<rect x="400.7" y="589.93" width="14" height="77.37" fill="#fff"/>
<rect x="401.15" y="589.33" width="13.1" height="77.97" fill="#5c5c5c"/>
<rect x="414.7" y="590.7" width="14" height="76.6" fill="#fff"/>
<rect x="415.15" y="590.1" width="13.1" height="77.2" fill="#929292"/>
<line x1="379.7" y1="589.33" x2="379.7" y2="600.14" stroke="#000" stroke-width="1.8"/>
<line x1="376.4" y1="589.33" x2="383" y2="589.33" stroke="#000" stroke-width="1.8"/>
<line x1="376.4" y1="600.14" x2="383" y2="600.14" stroke="#000" stroke-width="1.8"/>
<line x1="393.7" y1="586.43" x2="393.7" y2="597.63" stroke="#000" stroke-width="1.8"/>
<line x1="390.4" y1="586.43" x2="397" y2="586.43" stroke="#000" stroke-width="1.8"/>
<line x1="390.4" y1="597.63" x2="397" y2="597.63" stroke="#000" stroke-width="1.8"/>
<rect x="443.3" y="557.89" width="14" height="109.41" fill="#fff"/>
<rect x="443.75" y="557.29" width="13.1" height="110.01" fill="#0a0a0a"/>
<rect x="457.3" y="561.17" width="14" height="106.13" fill="#fff"/>
<rect x="457.75" y="560.57" width="13.1" height="106.73" fill="#222222"/>
<rect x="471.3" y="566.57" width="14" height="100.73" fill="#fff"/>
<rect x="471.75" y="565.97" width="13.1" height="101.33" fill="#5c5c5c"/>
<rect x="485.3" y="584.33" width="14" height="82.97" fill="#fff"/>
<rect x="485.75" y="583.73" width="13.1" height="83.57" fill="#929292"/>
<line x1="450.3" y1="549.57" x2="450.3" y2="565.01" stroke="#000" stroke-width="1.8"/>
<line x1="447" y1="549.57" x2="453.6" y2="549.57" stroke="#000" stroke-width="1.8"/>
<line x1="447" y1="565.01" x2="453.6" y2="565.01" stroke="#000" stroke-width="1.8"/>
<line x1="464.3" y1="559.61" x2="464.3" y2="561.54" stroke="#000" stroke-width="1.8"/>
<line x1="461" y1="559.61" x2="467.6" y2="559.61" stroke="#000" stroke-width="1.8"/>
<line x1="461" y1="561.54" x2="467.6" y2="561.54" stroke="#000" stroke-width="1.8"/>
<rect x="513.9" y="657.48" width="14" height="9.82" fill="#fff"/>
<rect x="514.35" y="656.88" width="13.1" height="10.42" fill="#0a0a0a"/>
<rect x="527.9" y="657.09" width="14" height="10.21" fill="#fff"/>
<rect x="528.35" y="656.49" width="13.1" height="10.81" fill="#222222"/>
<rect x="541.9" y="654.58" width="14" height="12.72" fill="#fff"/>
<rect x="542.35" y="653.98" width="13.1" height="13.32" fill="#5c5c5c"/>
<rect x="555.9" y="637.79" width="14" height="29.51" fill="#fff"/>
<rect x="556.35" y="637.19" width="13.1" height="30.11" fill="#929292"/>
<line x1="520.9" y1="651.67" x2="520.9" y2="662.09" stroke="#000" stroke-width="1.8"/>
<line x1="517.6" y1="651.67" x2="524.2" y2="651.67" stroke="#000" stroke-width="1.8"/>
<line x1="517.6" y1="662.09" x2="524.2" y2="662.09" stroke="#000" stroke-width="1.8"/>
<line x1="534.9" y1="651.67" x2="534.9" y2="661.32" stroke="#000" stroke-width="1.8"/>
<line x1="531.6" y1="651.67" x2="538.2" y2="651.67" stroke="#000" stroke-width="1.8"/>
<line x1="531.6" y1="661.32" x2="538.2" y2="661.32" stroke="#000" stroke-width="1.8"/>
<line x1="366" y1="511.95" x2="366" y2="668.25" stroke="#000" stroke-width="1.9"/>
<line x1="577.2" y1="511.95" x2="577.2" y2="668.25" stroke="#000" stroke-width="1.9"/>
<line x1="365.05" y1="667.3" x2="578.15" y2="667.3" stroke="#000" stroke-width="1.9"/>
<line x1="365.05" y1="512.9" x2="578.15" y2="512.9" stroke="#000" stroke-width="1.9"/>
<line x1="400.7" y1="667.3" x2="400.7" y2="671.3" stroke="#000" stroke-width="1.9"/>
<line x1="400.7" y1="512.9" x2="400.7" y2="508.9" stroke="#000" stroke-width="1.9"/>
<line x1="471.3" y1="667.3" x2="471.3" y2="671.3" stroke="#000" stroke-width="1.9"/>
<line x1="471.3" y1="512.9" x2="471.3" y2="508.9" stroke="#000" stroke-width="1.9"/>
<line x1="541.9" y1="667.3" x2="541.9" y2="671.3" stroke="#000" stroke-width="1.9"/>
<line x1="541.9" y1="512.9" x2="541.9" y2="508.9" stroke="#000" stroke-width="1.9"/>
<line x1="366" y1="667.3" x2="362" y2="667.3" stroke="#000" stroke-width="1.9"/>
<line x1="577.2" y1="667.3" x2="581.2" y2="667.3" stroke="#000" stroke-width="1.9"/>
<line x1="366" y1="628.7" x2="362" y2="628.7" stroke="#000" stroke-width="1.9"/>
<line x1="577.2" y1="628.7" x2="581.2" y2="628.7" stroke="#000" stroke-width="1.9"/>
<line x1="366" y1="590.1" x2="362" y2="590.1" stroke="#000" stroke-width="1.9"/>
<line x1="577.2" y1="590.1" x2="581.2" y2="590.1" stroke="#000" stroke-width="1.9"/>
<line x1="366" y1="551.5" x2="362" y2="551.5" stroke="#000" stroke-width="1.9"/>
<line x1="577.2" y1="551.5" x2="581.2" y2="551.5" stroke="#000" stroke-width="1.9"/>
<line x1="366" y1="512.9" x2="362" y2="512.9" stroke="#000" stroke-width="1.9"/>
<line x1="577.2" y1="512.9" x2="581.2" y2="512.9" stroke="#000" stroke-width="1.9"/>
<text x="360.4" y="671.3" font-size="11.2" font-weight="bold" text-anchor="end" fill="#000">0</text>
<text x="360.4" y="632.7" font-size="11.2" font-weight="bold" text-anchor="end" fill="#000">20</text>
<text x="360.4" y="594.1" font-size="11.2" font-weight="bold" text-anchor="end" fill="#000">40</text>
<text x="360.4" y="555.5" font-size="11.2" font-weight="bold" text-anchor="end" fill="#000">60</text>
<text x="360.4" y="516.9" font-size="11.2" font-weight="bold" text-anchor="end" fill="#000">80</text>
<text x="403.9" y="682.1" font-size="11.6" font-weight="bold" text-anchor="end" transform="rotate(-45 403.9 682.1)">APG</text>
<text x="474.5" y="682.1" font-size="11.6" font-weight="bold" text-anchor="end" transform="rotate(-45 474.5 682.1)">Main</text>
<text x="545.1" y="682.1" font-size="11.6" font-weight="bold" text-anchor="end" transform="rotate(-45 545.1 682.1)">BPG</text>
<text x="341.4" y="589.1" font-size="11.9" font-weight="bold" text-anchor="middle" transform="rotate(-90 341.4 589.1)">Peak area [%]</text>
<text x="324.2" y="515.3" font-size="20" font-weight="bold" text-anchor="start" fill="#000">h</text>
<path d="M370.6 575.8 V571.6 H412.9 V575.8" fill="none" stroke="#000" stroke-width="1.45"/>
<path d="M414.2 575.8 V571.6 H427.4 V575.8" fill="none" stroke="#000" stroke-width="1.45"/>
<text x="391.4" y="566.8" font-size="11.2" font-weight="bold" text-anchor="middle" fill="#000">ICE</text>
<text x="417.9" y="566.8" font-size="11.2" font-weight="bold" text-anchor="middle" fill="#000">WCX</text>
<path d="M441.3 540.9 V536.7 H483.6 V540.9" fill="none" stroke="#000" stroke-width="1.45"/>
<path d="M484.9 540.9 V536.7 H498.1 V540.9" fill="none" stroke="#000" stroke-width="1.45"/>
<text x="462.1" y="532" font-size="11.2" font-weight="bold" text-anchor="middle" fill="#000">ICE</text>
<text x="488.6" y="532" font-size="11.2" font-weight="bold" text-anchor="middle" fill="#000">WCX</text>
<path d="M511.9 627.2 V623 H554.2 V627.2" fill="none" stroke="#000" stroke-width="1.45"/>
<path d="M555.5 627.2 V623 H568.7 V627.2" fill="none" stroke="#000" stroke-width="1.45"/>
<text x="532.7" y="618.3" font-size="11.2" font-weight="bold" text-anchor="middle" fill="#000">ICE</text>
<text x="559.2" y="618.3" font-size="11.2" font-weight="bold" text-anchor="middle" fill="#000">WCX</text>
<line x1="55.1" y1="855.5" x2="264" y2="855.5" stroke="#111" stroke-width="1.0" stroke-dasharray="1 1"/>
<line x1="55.1" y1="824.5" x2="264" y2="824.5" stroke="#111" stroke-width="1.0" stroke-dasharray="1 1"/>
<line x1="55.1" y1="793.5" x2="264" y2="793.5" stroke="#111" stroke-width="1.0" stroke-dasharray="1 1"/>
<line x1="55.1" y1="762.5" x2="264" y2="762.5" stroke="#111" stroke-width="1.0" stroke-dasharray="1 1"/>
<rect x="63.9" y="761.64" width="21.2" height="124.46" fill="#fff"/>
<rect x="64.45" y="761.04" width="20.1" height="125.06" fill="#0a0a0a"/>
<rect x="85.1" y="761.64" width="21.2" height="124.46" fill="#fff"/>
<rect x="85.65" y="761.04" width="20.1" height="125.06" fill="#222222"/>
<rect x="106.3" y="761.02" width="21.2" height="125.08" fill="#fff"/>
<rect x="106.85" y="760.42" width="20.1" height="125.68" fill="#5c5c5c"/>
<rect x="127.5" y="762.72" width="21.2" height="123.38" fill="#fff"/>
<rect x="128.05" y="762.12" width="20.1" height="123.98" fill="#929292"/>
<line x1="74.5" y1="759.49" x2="74.5" y2="762.58" stroke="#000" stroke-width="1.8"/>
<line x1="69.2" y1="759.49" x2="79.8" y2="759.49" stroke="#000" stroke-width="1.8"/>
<line x1="69.2" y1="762.58" x2="79.8" y2="762.58" stroke="#000" stroke-width="1.8"/>
<line x1="95.7" y1="759.96" x2="95.7" y2="762.12" stroke="#000" stroke-width="1.8"/>
<line x1="90.4" y1="759.96" x2="101" y2="759.96" stroke="#000" stroke-width="1.8"/>
<line x1="90.4" y1="762.12" x2="101" y2="762.12" stroke="#000" stroke-width="1.8"/>
<rect x="170" y="859.22" width="21.2" height="26.88" fill="#fff"/>
<rect x="170.55" y="858.62" width="20.1" height="27.48" fill="#0a0a0a"/>
<rect x="191.2" y="859.22" width="21.2" height="26.88" fill="#fff"/>
<rect x="191.75" y="858.62" width="20.1" height="27.48" fill="#222222"/>
<rect x="212.4" y="859.37" width="21.2" height="26.73" fill="#fff"/>
<rect x="212.95" y="858.77" width="20.1" height="27.33" fill="#5c5c5c"/>
<rect x="233.6" y="856.28" width="21.2" height="29.82" fill="#fff"/>
<rect x="234.15" y="855.68" width="20.1" height="30.42" fill="#929292"/>
<line x1="180.6" y1="857.84" x2="180.6" y2="859.39" stroke="#000" stroke-width="1.8"/>
<line x1="175.3" y1="857.84" x2="185.9" y2="857.84" stroke="#000" stroke-width="1.8"/>
<line x1="175.3" y1="859.39" x2="185.9" y2="859.39" stroke="#000" stroke-width="1.8"/>
<line x1="201.8" y1="857.84" x2="201.8" y2="859.39" stroke="#000" stroke-width="1.8"/>
<line x1="196.5" y1="857.84" x2="207.1" y2="857.84" stroke="#000" stroke-width="1.8"/>
<line x1="196.5" y1="859.39" x2="207.1" y2="859.39" stroke="#000" stroke-width="1.8"/>
<line x1="54.1" y1="730.75" x2="54.1" y2="887.05" stroke="#000" stroke-width="1.9"/>
<line x1="265" y1="730.75" x2="265" y2="887.05" stroke="#000" stroke-width="1.9"/>
<line x1="53.15" y1="886.1" x2="265.95" y2="886.1" stroke="#000" stroke-width="1.9"/>
<line x1="53.15" y1="731.7" x2="265.95" y2="731.7" stroke="#000" stroke-width="1.9"/>
<line x1="106.3" y1="886.1" x2="106.3" y2="890.1" stroke="#000" stroke-width="1.9"/>
<line x1="106.3" y1="731.7" x2="106.3" y2="727.7" stroke="#000" stroke-width="1.9"/>
<line x1="212.4" y1="886.1" x2="212.4" y2="890.1" stroke="#000" stroke-width="1.9"/>
<line x1="212.4" y1="731.7" x2="212.4" y2="727.7" stroke="#000" stroke-width="1.9"/>
<line x1="54.1" y1="886.1" x2="50.1" y2="886.1" stroke="#000" stroke-width="1.9"/>
<line x1="265" y1="886.1" x2="269" y2="886.1" stroke="#000" stroke-width="1.9"/>
<line x1="54.1" y1="855.22" x2="50.1" y2="855.22" stroke="#000" stroke-width="1.9"/>
<line x1="265" y1="855.22" x2="269" y2="855.22" stroke="#000" stroke-width="1.9"/>
<line x1="54.1" y1="824.34" x2="50.1" y2="824.34" stroke="#000" stroke-width="1.9"/>
<line x1="265" y1="824.34" x2="269" y2="824.34" stroke="#000" stroke-width="1.9"/>
<line x1="54.1" y1="793.46" x2="50.1" y2="793.46" stroke="#000" stroke-width="1.9"/>
<line x1="265" y1="793.46" x2="269" y2="793.46" stroke="#000" stroke-width="1.9"/>
<line x1="54.1" y1="762.58" x2="50.1" y2="762.58" stroke="#000" stroke-width="1.9"/>
<line x1="265" y1="762.58" x2="269" y2="762.58" stroke="#000" stroke-width="1.9"/>
<line x1="54.1" y1="731.7" x2="50.1" y2="731.7" stroke="#000" stroke-width="1.9"/>
<line x1="265" y1="731.7" x2="269" y2="731.7" stroke="#000" stroke-width="1.9"/>
<text x="48.5" y="890.1" font-size="11.2" font-weight="bold" text-anchor="end" fill="#000">0</text>
<text x="48.5" y="859.22" font-size="11.2" font-weight="bold" text-anchor="end" fill="#000">20</text>
<text x="48.5" y="828.34" font-size="11.2" font-weight="bold" text-anchor="end" fill="#000">40</text>
<text x="48.5" y="797.46" font-size="11.2" font-weight="bold" text-anchor="end" fill="#000">60</text>
<text x="48.5" y="766.58" font-size="11.2" font-weight="bold" text-anchor="end" fill="#000">80</text>
<text x="48.5" y="735.7" font-size="11.2" font-weight="bold" text-anchor="end" fill="#000">100</text>
<text x="109.5" y="900.9" font-size="11.6" font-weight="bold" text-anchor="end" transform="rotate(-45 109.5 900.9)">HC</text>
<text x="215.6" y="900.9" font-size="11.6" font-weight="bold" text-anchor="end" transform="rotate(-45 215.6 900.9)">LC</text>
<text x="23.8" y="807.9" font-size="11.9" font-weight="bold" text-anchor="middle" transform="rotate(-90 23.8 807.9)">Peak area [%]</text>
<text x="6" y="721.9" font-size="20" font-weight="bold" text-anchor="start" fill="#000">i</text>
<line x1="367.1" y1="860.5" x2="576" y2="860.5" stroke="#111" stroke-width="1.0" stroke-dasharray="1 1"/>
<line x1="367.1" y1="835.5" x2="576" y2="835.5" stroke="#111" stroke-width="1.0" stroke-dasharray="1 1"/>
<line x1="367.1" y1="809.5" x2="576" y2="809.5" stroke="#111" stroke-width="1.0" stroke-dasharray="1 1"/>
<line x1="367.1" y1="783.5" x2="576" y2="783.5" stroke="#111" stroke-width="1.0" stroke-dasharray="1 1"/>
<line x1="367.1" y1="757.5" x2="576" y2="757.5" stroke="#111" stroke-width="1.0" stroke-dasharray="1 1"/>
<rect x="368.5" y="883.07" width="6" height="3.53" fill="#fff"/>
<rect x="368.68" y="882.47" width="5.65" height="4.13" fill="#0a0a0a"/>
<rect x="374.5" y="880.75" width="6" height="5.85" fill="#fff"/>
<rect x="374.68" y="880.15" width="5.65" height="6.45" fill="#222222"/>
<rect x="380.5" y="879.98" width="6" height="6.62" fill="#fff"/>
<rect x="380.68" y="879.38" width="5.65" height="7.22" fill="#5c5c5c"/>
<rect x="386.5" y="882.3" width="6" height="4.3" fill="#fff"/>
<rect x="386.68" y="881.7" width="5.65" height="4.9" fill="#929292"/>
<line x1="371.5" y1="878.35" x2="371.5" y2="886.6" stroke="#000" stroke-width="1.9"/>
<line x1="369.7" y1="878.35" x2="373.3" y2="878.35" stroke="#000" stroke-width="1.9"/>
<line x1="377.5" y1="877.83" x2="377.5" y2="882.47" stroke="#000" stroke-width="1.9"/>
<line x1="375.7" y1="877.83" x2="379.3" y2="877.83" stroke="#000" stroke-width="1.9"/>
<line x1="375.7" y1="882.47" x2="379.3" y2="882.47" stroke="#000" stroke-width="1.9"/>
<rect x="398.77" y="884.36" width="6" height="2.24" fill="#fff"/>
<rect x="398.94" y="883.76" width="5.65" height="2.84" fill="#0a0a0a"/>
<rect x="404.77" y="882.3" width="6" height="4.3" fill="#fff"/>
<rect x="404.94" y="881.7" width="5.65" height="4.9" fill="#222222"/>
<rect x="410.77" y="881.79" width="6" height="4.81" fill="#fff"/>
<rect x="410.94" y="881.19" width="5.65" height="5.41" fill="#5c5c5c"/>
<rect x="416.77" y="879.47" width="6" height="7.14" fill="#fff"/>
<rect x="416.94" y="878.87" width="5.65" height="7.74" fill="#929292"/>
<line x1="401.77" y1="880.93" x2="401.77" y2="886.6" stroke="#000" stroke-width="1.9"/>
<line x1="399.97" y1="880.93" x2="403.57" y2="880.93" stroke="#000" stroke-width="1.9"/>
<line x1="407.77" y1="879.64" x2="407.77" y2="883.76" stroke="#000" stroke-width="1.9"/>
<line x1="405.97" y1="879.64" x2="409.57" y2="879.64" stroke="#000" stroke-width="1.9"/>
<line x1="405.97" y1="883.76" x2="409.57" y2="883.76" stroke="#000" stroke-width="1.9"/>
<rect x="429.04" y="771.69" width="6" height="114.91" fill="#fff"/>
<rect x="429.22" y="771.09" width="5.65" height="115.51" fill="#0a0a0a"/>
<rect x="435.04" y="761.89" width="6" height="124.71" fill="#fff"/>
<rect x="435.22" y="761.29" width="5.65" height="125.31" fill="#222222"/>
<rect x="441.04" y="743.33" width="6" height="143.27" fill="#fff"/>
<rect x="441.22" y="742.73" width="5.65" height="143.87" fill="#5c5c5c"/>
<rect x="447.04" y="784.32" width="6" height="102.28" fill="#fff"/>
<rect x="447.22" y="783.72" width="5.65" height="102.88" fill="#929292"/>
<line x1="432.04" y1="747.37" x2="432.04" y2="794.81" stroke="#000" stroke-width="1.9"/>
<line x1="430.24" y1="747.37" x2="433.84" y2="747.37" stroke="#000" stroke-width="1.9"/>
<line x1="430.24" y1="794.81" x2="433.84" y2="794.81" stroke="#000" stroke-width="1.9"/>
<line x1="438.04" y1="744.28" x2="438.04" y2="778.31" stroke="#000" stroke-width="1.9"/>
<line x1="436.24" y1="744.28" x2="439.84" y2="744.28" stroke="#000" stroke-width="1.9"/>
<line x1="436.24" y1="778.31" x2="439.84" y2="778.31" stroke="#000" stroke-width="1.9"/>
<rect x="459.31" y="876.76" width="6" height="9.84" fill="#fff"/>
<rect x="459.49" y="876.16" width="5.65" height="10.44" fill="#0a0a0a"/>
<rect x="465.31" y="874.82" width="6" height="11.78" fill="#fff"/>
<rect x="465.49" y="874.22" width="5.65" height="12.38" fill="#222222"/>
<rect x="471.31" y="874.82" width="6" height="11.78" fill="#fff"/>
<rect x="471.49" y="874.22" width="5.65" height="12.38" fill="#5c5c5c"/>
<rect x="477.31" y="873.79" width="6" height="12.81" fill="#fff"/>
<rect x="477.49" y="873.19" width="5.65" height="13.41" fill="#929292"/>
<line x1="462.31" y1="873.45" x2="462.31" y2="878.87" stroke="#000" stroke-width="1.9"/>
<line x1="460.51" y1="873.45" x2="464.11" y2="873.45" stroke="#000" stroke-width="1.9"/>
<line x1="460.51" y1="878.87" x2="464.11" y2="878.87" stroke="#000" stroke-width="1.9"/>
<line x1="468.31" y1="870.61" x2="468.31" y2="877.83" stroke="#000" stroke-width="1.9"/>
<line x1="466.51" y1="870.61" x2="470.11" y2="870.61" stroke="#000" stroke-width="1.9"/>
<line x1="466.51" y1="877.83" x2="470.11" y2="877.83" stroke="#000" stroke-width="1.9"/>
<rect x="489.58" y="799.28" width="6" height="87.32" fill="#fff"/>
<rect x="489.75" y="798.68" width="5.65" height="87.92" fill="#0a0a0a"/>
<rect x="495.58" y="813.2" width="6" height="73.4" fill="#fff"/>
<rect x="495.75" y="812.6" width="5.65" height="74" fill="#222222"/>
<rect x="501.58" y="826.09" width="6" height="60.51" fill="#fff"/>
<rect x="501.75" y="825.49" width="5.65" height="61.11" fill="#5c5c5c"/>
<rect x="507.58" y="803.66" width="6" height="82.94" fill="#fff"/>
<rect x="507.75" y="803.06" width="5.65" height="83.54" fill="#929292"/>
<line x1="492.58" y1="777.28" x2="492.58" y2="820.08" stroke="#000" stroke-width="1.9"/>
<line x1="490.78" y1="777.28" x2="494.38" y2="777.28" stroke="#000" stroke-width="1.9"/>
<line x1="490.78" y1="820.08" x2="494.38" y2="820.08" stroke="#000" stroke-width="1.9"/>
<line x1="498.58" y1="801" x2="498.58" y2="824.2" stroke="#000" stroke-width="1.9"/>
<line x1="496.78" y1="801" x2="500.38" y2="801" stroke="#000" stroke-width="1.9"/>
<line x1="496.78" y1="824.2" x2="500.38" y2="824.2" stroke="#000" stroke-width="1.9"/>
<rect x="519.85" y="881.79" width="6" height="4.81" fill="#fff"/>
<rect x="520.02" y="881.19" width="5.65" height="5.41" fill="#0a0a0a"/>
<rect x="525.85" y="882.56" width="6" height="4.04" fill="#fff"/>
<rect x="526.02" y="881.96" width="5.65" height="4.64" fill="#222222"/>
<rect x="531.85" y="883.59" width="6" height="3.01" fill="#fff"/>
<rect x="532.02" y="882.99" width="5.65" height="3.61" fill="#5c5c5c"/>
<rect x="537.85" y="884.88" width="6" height="1.72" fill="#fff"/>
<rect x="538.02" y="884.28" width="5.65" height="2.32" fill="#929292"/>
<line x1="522.85" y1="878.87" x2="522.85" y2="883.51" stroke="#000" stroke-width="1.9"/>
<line x1="521.05" y1="878.87" x2="524.65" y2="878.87" stroke="#000" stroke-width="1.9"/>
<line x1="521.05" y1="883.51" x2="524.65" y2="883.51" stroke="#000" stroke-width="1.9"/>
<line x1="528.85" y1="878.87" x2="528.85" y2="885.05" stroke="#000" stroke-width="1.9"/>
<line x1="527.05" y1="878.87" x2="530.65" y2="878.87" stroke="#000" stroke-width="1.9"/>
<line x1="527.05" y1="885.05" x2="530.65" y2="885.05" stroke="#000" stroke-width="1.9"/>
<rect x="550.12" y="868.12" width="6" height="18.48" fill="#fff"/>
<rect x="550.29" y="867.52" width="5.65" height="19.08" fill="#0a0a0a"/>
<rect x="556.12" y="872.76" width="6" height="13.84" fill="#fff"/>
<rect x="556.29" y="872.16" width="5.65" height="14.44" fill="#222222"/>
<rect x="562.12" y="877.14" width="6" height="9.46" fill="#fff"/>
<rect x="562.29" y="876.54" width="5.65" height="10.06" fill="#5c5c5c"/>
<rect x="568.12" y="865.8" width="6" height="20.8" fill="#fff"/>
<rect x="568.29" y="865.2" width="5.65" height="21.4" fill="#929292"/>
<line x1="553.12" y1="860.82" x2="553.12" y2="874.22" stroke="#000" stroke-width="1.9"/>
<line x1="551.32" y1="860.82" x2="554.92" y2="860.82" stroke="#000" stroke-width="1.9"/>
<line x1="551.32" y1="874.22" x2="554.92" y2="874.22" stroke="#000" stroke-width="1.9"/>
<line x1="559.12" y1="868.55" x2="559.12" y2="875.77" stroke="#000" stroke-width="1.9"/>
<line x1="557.32" y1="868.55" x2="560.92" y2="868.55" stroke="#000" stroke-width="1.9"/>
<line x1="557.32" y1="875.77" x2="560.92" y2="875.77" stroke="#000" stroke-width="1.9"/>
<line x1="366.1" y1="730.95" x2="366.1" y2="887.55" stroke="#000" stroke-width="1.9"/>
<line x1="577" y1="730.95" x2="577" y2="887.55" stroke="#000" stroke-width="1.9"/>
<line x1="365.15" y1="886.6" x2="577.95" y2="886.6" stroke="#000" stroke-width="1.9"/>
<line x1="365.15" y1="731.9" x2="577.95" y2="731.9" stroke="#000" stroke-width="1.9"/>
<line x1="380.5" y1="886.6" x2="380.5" y2="890.6" stroke="#000" stroke-width="1.9"/>
<line x1="380.5" y1="731.9" x2="380.5" y2="727.9" stroke="#000" stroke-width="1.9"/>
<line x1="410.77" y1="886.6" x2="410.77" y2="890.6" stroke="#000" stroke-width="1.9"/>
<line x1="410.77" y1="731.9" x2="410.77" y2="727.9" stroke="#000" stroke-width="1.9"/>
<line x1="441.04" y1="886.6" x2="441.04" y2="890.6" stroke="#000" stroke-width="1.9"/>
<line x1="441.04" y1="731.9" x2="441.04" y2="727.9" stroke="#000" stroke-width="1.9"/>
<line x1="471.31" y1="886.6" x2="471.31" y2="890.6" stroke="#000" stroke-width="1.9"/>
<line x1="471.31" y1="731.9" x2="471.31" y2="727.9" stroke="#000" stroke-width="1.9"/>
<line x1="501.58" y1="886.6" x2="501.58" y2="890.6" stroke="#000" stroke-width="1.9"/>
<line x1="501.58" y1="731.9" x2="501.58" y2="727.9" stroke="#000" stroke-width="1.9"/>
<line x1="531.85" y1="886.6" x2="531.85" y2="890.6" stroke="#000" stroke-width="1.9"/>
<line x1="531.85" y1="731.9" x2="531.85" y2="727.9" stroke="#000" stroke-width="1.9"/>
<line x1="562.12" y1="886.6" x2="562.12" y2="890.6" stroke="#000" stroke-width="1.9"/>
<line x1="562.12" y1="731.9" x2="562.12" y2="727.9" stroke="#000" stroke-width="1.9"/>
<line x1="366.1" y1="886.6" x2="362.1" y2="886.6" stroke="#000" stroke-width="1.9"/>
<line x1="577" y1="886.6" x2="581" y2="886.6" stroke="#000" stroke-width="1.9"/>
<line x1="366.1" y1="860.82" x2="362.1" y2="860.82" stroke="#000" stroke-width="1.9"/>
<line x1="577" y1="860.82" x2="581" y2="860.82" stroke="#000" stroke-width="1.9"/>
<line x1="366.1" y1="835.03" x2="362.1" y2="835.03" stroke="#000" stroke-width="1.9"/>
<line x1="577" y1="835.03" x2="581" y2="835.03" stroke="#000" stroke-width="1.9"/>
<line x1="366.1" y1="809.25" x2="362.1" y2="809.25" stroke="#000" stroke-width="1.9"/>
<line x1="577" y1="809.25" x2="581" y2="809.25" stroke="#000" stroke-width="1.9"/>
<line x1="366.1" y1="783.47" x2="362.1" y2="783.47" stroke="#000" stroke-width="1.9"/>
<line x1="577" y1="783.47" x2="581" y2="783.47" stroke="#000" stroke-width="1.9"/>
<line x1="366.1" y1="757.68" x2="362.1" y2="757.68" stroke="#000" stroke-width="1.9"/>
<line x1="577" y1="757.68" x2="581" y2="757.68" stroke="#000" stroke-width="1.9"/>
<line x1="366.1" y1="731.9" x2="362.1" y2="731.9" stroke="#000" stroke-width="1.9"/>
<line x1="577" y1="731.9" x2="581" y2="731.9" stroke="#000" stroke-width="1.9"/>
<text x="360.5" y="890.6" font-size="11.2" font-weight="bold" text-anchor="end" fill="#000">0</text>
<text x="360.5" y="864.82" font-size="11.2" font-weight="bold" text-anchor="end" fill="#000">10</text>
<text x="360.5" y="839.03" font-size="11.2" font-weight="bold" text-anchor="end" fill="#000">20</text>
<text x="360.5" y="813.25" font-size="11.2" font-weight="bold" text-anchor="end" fill="#000">30</text>
<text x="360.5" y="787.47" font-size="11.2" font-weight="bold" text-anchor="end" fill="#000">40</text>
<text x="360.5" y="761.68" font-size="11.2" font-weight="bold" text-anchor="end" fill="#000">50</text>
<text x="360.5" y="735.9" font-size="11.2" font-weight="bold" text-anchor="end" fill="#000">60</text>
<text x="383.7" y="901.4" font-size="11.6" font-weight="bold" text-anchor="end" transform="rotate(-45 383.7 901.4)">Man5</text>
<text x="413.97" y="901.4" font-size="11.6" font-weight="bold" text-anchor="end" transform="rotate(-45 413.97 901.4)">G0</text>
<text x="444.24" y="901.4" font-size="11.6" font-weight="bold" text-anchor="end" transform="rotate(-45 444.24 901.4)">FG0</text>
<text x="474.51" y="901.4" font-size="11.6" font-weight="bold" text-anchor="end" transform="rotate(-45 474.51 901.4)">G1</text>
<text x="504.78" y="901.4" font-size="11.6" font-weight="bold" text-anchor="end" transform="rotate(-45 504.78 901.4)">FG1</text>
<text x="535.05" y="901.4" font-size="11.6" font-weight="bold" text-anchor="end" transform="rotate(-45 535.05 901.4)">G2</text>
<text x="565.32" y="901.4" font-size="11.6" font-weight="bold" text-anchor="end" transform="rotate(-45 565.32 901.4)">FG2</text>
<text x="341.4" y="808.25" font-size="11.9" font-weight="bold" text-anchor="middle" transform="rotate(-90 341.4 808.25)">Peak area [%]</text>
<text x="328.8" y="722.2" font-size="20" font-weight="bold" text-anchor="start" fill="#000">j</text>
<rect x="1.3" y="932.3" width="22.4" height="5.6" fill="#0a0a0a"/>
<text x="35.6" y="939.7" font-size="13.25" font-weight="normal" text-anchor="start" fill="#000">control (lab-scale)</text>
<rect x="162" y="932.3" width="22.5" height="5.6" fill="#222222"/>
<text x="194.3" y="939.7" font-size="13.25" font-weight="normal" text-anchor="start" fill="#000">uHSD (lab-scale)</text>
<rect x="313" y="932.3" width="22" height="5.6" fill="#5c5c5c"/>
<text x="346.7" y="939.7" font-size="13.25" font-weight="normal" text-anchor="start" fill="#000">uHSD + lac bolus (lab-scale)</text>
<rect x="538.2" y="932.3" width="21.1" height="5.6" fill="#929292"/>
<text x="570.6" y="939.7" font-size="13.25" font-weight="normal" text-anchor="start" fill="#000">uHSD + lac bolus (pilot-scale)</text>
</svg>
</body></html>
